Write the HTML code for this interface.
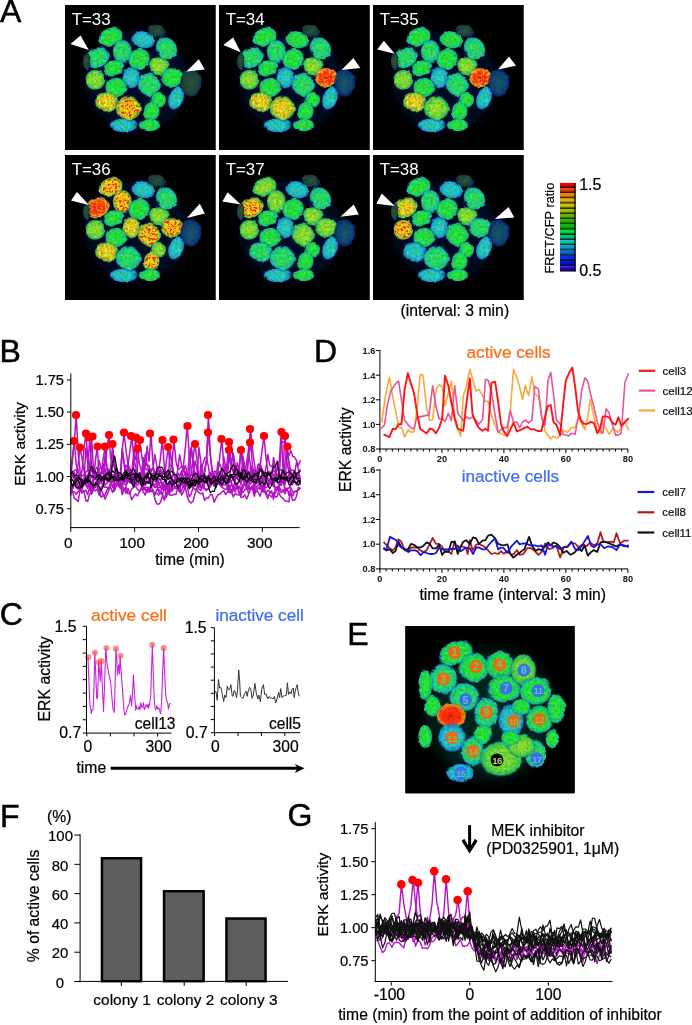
<!DOCTYPE html>
<html><head><meta charset="utf-8"><style>
html,body{margin:0;padding:0;background:#fff;}
body{width:692px;height:1025px;overflow:hidden;}
svg{display:block;font-family:"Liberation Sans", sans-serif;will-change:transform;}
</style></head><body>
<svg width="692" height="1025" viewBox="0 0 692 1025">
<defs>
<radialGradient id="p_c" cx="50%" cy="50%" r="50%"><stop offset="0" stop-color="#2ad8a8"/><stop offset="0.62" stop-color="#20ccbc"/><stop offset="0.86" stop-color="#1898c8"/><stop offset="1" stop-color="#0830a0" stop-opacity="0"/></radialGradient>
<radialGradient id="p_g" cx="50%" cy="50%" r="50%"><stop offset="0" stop-color="#28f038"/><stop offset="0.62" stop-color="#22ec44"/><stop offset="0.86" stop-color="#18c880"/><stop offset="1" stop-color="#0840a0" stop-opacity="0"/></radialGradient>
<radialGradient id="p_gc" cx="50%" cy="50%" r="50%"><stop offset="0" stop-color="#2aea58"/><stop offset="0.62" stop-color="#24e468"/><stop offset="0.86" stop-color="#1ac4a0"/><stop offset="1" stop-color="#0838a0" stop-opacity="0"/></radialGradient>
<radialGradient id="p_yg" cx="50%" cy="50%" r="50%"><stop offset="0" stop-color="#90e830"/><stop offset="0.62" stop-color="#60e438"/><stop offset="0.86" stop-color="#28c860"/><stop offset="1" stop-color="#0a4080" stop-opacity="0"/></radialGradient>
<radialGradient id="p_y" cx="50%" cy="50%" r="50%"><stop offset="0" stop-color="#e8f020"/><stop offset="0.62" stop-color="#c0ec28"/><stop offset="0.86" stop-color="#60d040"/><stop offset="1" stop-color="#105060" stop-opacity="0"/></radialGradient>
<radialGradient id="p_yr" cx="50%" cy="50%" r="50%"><stop offset="0" stop-color="#f0d818"/><stop offset="0.62" stop-color="#d8e020"/><stop offset="0.86" stop-color="#70d040"/><stop offset="1" stop-color="#105060" stop-opacity="0"/></radialGradient>
<radialGradient id="p_r" cx="50%" cy="50%" r="50%"><stop offset="0" stop-color="#ff1a00"/><stop offset="0.62" stop-color="#ff4010"/><stop offset="0.86" stop-color="#e0a020"/><stop offset="1" stop-color="#205030" stop-opacity="0"/></radialGradient>
<radialGradient id="p_d" cx="50%" cy="50%" r="50%"><stop offset="0" stop-color="#285a30"/><stop offset="0.62" stop-color="#1e4a38"/><stop offset="0.86" stop-color="#103a48"/><stop offset="1" stop-color="#050a20" stop-opacity="0"/></radialGradient>
<radialGradient id="p_db" cx="50%" cy="50%" r="50%"><stop offset="0" stop-color="#186060"/><stop offset="0.62" stop-color="#0e4a70"/><stop offset="0.86" stop-color="#0a2a70"/><stop offset="1" stop-color="#050a20" stop-opacity="0"/></radialGradient>
<filter id="cellf" x="0" y="0" width="100%" height="100%" color-interpolation-filters="sRGB"><feTurbulence type="fractalNoise" baseFrequency="0.12" numOctaves="2" seed="5" result="w"/><feDisplacementMap in="SourceGraphic" in2="w" scale="3.5" xChannelSelector="R" yChannelSelector="G" result="d"/><feGaussianBlur in="d" stdDeviation="0.55" result="b"/><feTurbulence type="fractalNoise" baseFrequency="0.38" numOctaves="2" seed="3" result="n"/><feColorMatrix in="n" type="matrix" values="0.8 0 0 0 0.12  0 0.22 0 0 0.35  0 0 1.0 0 0.0  0 0 0 0 1" result="nn"/><feComposite in="b" in2="nn" operator="arithmetic" k1="2" k2="0" k3="0" k4="0"/></filter>
<filter id="speck" x="0" y="0" width="100%" height="100%" color-interpolation-filters="sRGB"><feTurbulence type="fractalNoise" baseFrequency="0.42" numOctaves="2" seed="11" result="n"/><feColorMatrix in="n" type="matrix" values="0 0 0 0 0  0 0 0 0 0  0 0 0 0 0  7 0 0 0 -3.6" result="m"/><feComposite in="SourceGraphic" in2="m" operator="in"/></filter>
<clipPath id="tclip"><rect width="150.5" height="145"/></clipPath>
<filter id="haze" x="-30%" y="-30%" width="160%" height="160%"><feGaussianBlur stdDeviation="5"/></filter>
<filter id="ehaze" x="-30%" y="-30%" width="160%" height="160%"><feGaussianBlur stdDeviation="7"/></filter>
</defs>
<text x="0.00" y="22.40" font-size="32" text-anchor="start" fill="#000" stroke="#000" stroke-width="0.5" font-weight="normal" >A</text>
<text x="-0.40" y="361.70" font-size="32" text-anchor="start" fill="#000" stroke="#000" stroke-width="0.5" font-weight="normal" >B</text>
<text x="-0.30" y="625.00" font-size="32" text-anchor="start" fill="#000" stroke="#000" stroke-width="0.5" font-weight="normal" >C</text>
<text x="314.00" y="362.10" font-size="32" text-anchor="start" fill="#000" stroke="#000" stroke-width="0.5" font-weight="normal" >D</text>
<text x="347.30" y="645.00" font-size="32" text-anchor="start" fill="#000" stroke="#000" stroke-width="0.5" font-weight="normal" >E</text>
<text x="0.00" y="826.50" font-size="32" text-anchor="start" fill="#000" stroke="#000" stroke-width="0.5" font-weight="normal" >F</text>
<text x="287.50" y="825.60" font-size="32" text-anchor="start" fill="#000" stroke="#000" stroke-width="0.5" font-weight="normal" >G</text>
<g transform="translate(65,5)">
<rect x="0" y="0" width="150.5" height="145" fill="#000"/>
<g clip-path="url(#tclip)"><g filter="url(#cellf)">
<rect x="-4" y="-4" width="158.5" height="153" fill="#000"/>
<ellipse cx="72" cy="76" rx="52" ry="50" fill="#061a40" fill-opacity="0.55" filter="url(#haze)"/>
<ellipse cx="45.7" cy="31.7" rx="13.1" ry="9.5" transform="rotate(-20 45.7 31.7)" fill="url(#p_g)"/>
<ellipse cx="78.0" cy="34.7" rx="12.5" ry="9.1" transform="rotate(12 78.0 34.7)" fill="url(#p_c)"/>
<ellipse cx="92.0" cy="26.0" rx="10.3" ry="6.3" transform="rotate(20 92.0 26.0)" fill="url(#p_d)"/>
<ellipse cx="101.5" cy="43.4" rx="12.5" ry="10.8" transform="rotate(50 101.5 43.4)" fill="url(#p_gc)"/>
<ellipse cx="32.5" cy="52.5" rx="12.5" ry="10.8" transform="rotate(-15 32.5 52.5)" fill="url(#p_gc)"/>
<ellipse cx="57.4" cy="46.6" rx="10.3" ry="12.5" transform="rotate(0 57.4 46.6)" fill="url(#p_gc)"/>
<ellipse cx="74.0" cy="54.0" rx="12.0" ry="10.8" transform="rotate(-30 74.0 54.0)" fill="url(#p_g)"/>
<ellipse cx="93.6" cy="60.7" rx="10.8" ry="10.3" transform="rotate(0 93.6 60.7)" fill="url(#p_yg)"/>
<ellipse cx="48.8" cy="62.9" rx="11.4" ry="8.0" transform="rotate(-15 48.8 62.9)" fill="url(#p_g)"/>
<ellipse cx="30.3" cy="74.8" rx="10.8" ry="10.8" transform="rotate(0 30.3 74.8)" fill="url(#p_yg)"/>
<ellipse cx="66.3" cy="72.6" rx="9.7" ry="11.4" transform="rotate(0 66.3 72.6)" fill="url(#p_c)"/>
<ellipse cx="84.0" cy="80.0" rx="12.0" ry="12.5" transform="rotate(0 84.0 80.0)" fill="url(#p_gc)"/>
<ellipse cx="107.3" cy="72.6" rx="12.5" ry="10.3" transform="rotate(0 107.3 72.6)" fill="url(#p_g)"/>
<ellipse cx="126.0" cy="78.0" rx="11.4" ry="14.8" transform="rotate(0 126.0 78.0)" fill="url(#p_d)"/>
<ellipse cx="51.0" cy="82.4" rx="11.4" ry="10.3" transform="rotate(0 51.0 82.4)" fill="url(#p_g)"/>
<ellipse cx="41.2" cy="96.5" rx="12.0" ry="10.8" transform="rotate(10 41.2 96.5)" fill="url(#p_y)"/>
<ellipse cx="63.3" cy="103.0" rx="13.7" ry="13.1" transform="rotate(0 63.3 103.0)" fill="url(#p_yr)"/>
<ellipse cx="93.6" cy="94.7" rx="8.0" ry="8.5" transform="rotate(0 93.6 94.7)" fill="url(#p_g)"/>
<ellipse cx="111.0" cy="93.2" rx="8.0" ry="12.5" transform="rotate(20 111.0 93.2)" fill="url(#p_c)"/>
<ellipse cx="86.7" cy="106.2" rx="8.5" ry="9.7" transform="rotate(0 86.7 106.2)" fill="url(#p_g)"/>
<ellipse cx="58.5" cy="120.3" rx="14.8" ry="7.4" transform="rotate(0 58.5 120.3)" fill="url(#p_c)"/>
<ellipse cx="84.5" cy="120.0" rx="11.4" ry="6.8" transform="rotate(0 84.5 120.0)" fill="url(#p_g)"/>
<ellipse cx="21.7" cy="56.0" rx="4.0" ry="9.1" transform="rotate(0 21.7 56.0)" fill="url(#p_d)"/>
</g></g>
<g filter="url(#speck)"><rect width="150.5" height="145" fill="none"/>
<ellipse cx="93.6" cy="60.7" rx="9.0" ry="8.5" transform="rotate(0 93.6 60.7)" fill="#f0f020" fill-opacity="0.35"/>
<ellipse cx="30.3" cy="74.8" rx="9.0" ry="9.0" transform="rotate(0 30.3 74.8)" fill="#f0f020" fill-opacity="0.35"/>
<ellipse cx="41.2" cy="96.5" rx="10.0" ry="9.0" transform="rotate(10 41.2 96.5)" fill="#ff2800" fill-opacity="0.45"/>
<ellipse cx="63.3" cy="103.0" rx="11.4" ry="10.9" transform="rotate(0 63.3 103.0)" fill="#ff1800" fill-opacity="0.95"/>
</g>
<text x="6.7" y="20.1" font-size="16.9" fill="#fff">T=33</text>
<polygon points="15.6,30.4 5.4,39.0 23.8,44.9" fill="#fff"/>
<polygon points="133.8,54.2 139.8,64.4 121.4,66.5" fill="#fff"/>
</g>
<g transform="translate(219,5)">
<rect x="0" y="0" width="150.5" height="145" fill="#000"/>
<g clip-path="url(#tclip)"><g filter="url(#cellf)">
<rect x="-4" y="-4" width="158.5" height="153" fill="#000"/>
<ellipse cx="72" cy="76" rx="52" ry="50" fill="#061a40" fill-opacity="0.55" filter="url(#haze)"/>
<ellipse cx="45.7" cy="31.7" rx="13.1" ry="9.5" transform="rotate(-20 45.7 31.7)" fill="url(#p_g)"/>
<ellipse cx="78.0" cy="34.7" rx="12.5" ry="9.1" transform="rotate(12 78.0 34.7)" fill="url(#p_g)"/>
<ellipse cx="92.0" cy="26.0" rx="10.3" ry="6.3" transform="rotate(20 92.0 26.0)" fill="url(#p_d)"/>
<ellipse cx="101.5" cy="43.4" rx="12.5" ry="10.8" transform="rotate(50 101.5 43.4)" fill="url(#p_gc)"/>
<ellipse cx="32.5" cy="52.5" rx="12.5" ry="10.8" transform="rotate(-15 32.5 52.5)" fill="url(#p_gc)"/>
<ellipse cx="57.4" cy="46.6" rx="10.3" ry="12.5" transform="rotate(0 57.4 46.6)" fill="url(#p_gc)"/>
<ellipse cx="74.0" cy="54.0" rx="12.0" ry="10.8" transform="rotate(-30 74.0 54.0)" fill="url(#p_g)"/>
<ellipse cx="93.6" cy="60.7" rx="10.8" ry="10.3" transform="rotate(0 93.6 60.7)" fill="url(#p_yg)"/>
<ellipse cx="48.8" cy="62.9" rx="11.4" ry="8.0" transform="rotate(-15 48.8 62.9)" fill="url(#p_g)"/>
<ellipse cx="30.3" cy="74.8" rx="10.8" ry="10.8" transform="rotate(0 30.3 74.8)" fill="url(#p_yg)"/>
<ellipse cx="66.3" cy="72.6" rx="9.7" ry="11.4" transform="rotate(0 66.3 72.6)" fill="url(#p_c)"/>
<ellipse cx="84.0" cy="80.0" rx="12.0" ry="12.5" transform="rotate(0 84.0 80.0)" fill="url(#p_gc)"/>
<ellipse cx="107.3" cy="72.6" rx="12.5" ry="10.3" transform="rotate(0 107.3 72.6)" fill="url(#p_r)"/>
<ellipse cx="126.0" cy="78.0" rx="11.4" ry="14.8" transform="rotate(0 126.0 78.0)" fill="url(#p_db)"/>
<ellipse cx="51.0" cy="82.4" rx="11.4" ry="10.3" transform="rotate(0 51.0 82.4)" fill="url(#p_g)"/>
<ellipse cx="41.2" cy="96.5" rx="12.0" ry="10.8" transform="rotate(10 41.2 96.5)" fill="url(#p_y)"/>
<ellipse cx="63.3" cy="103.0" rx="13.7" ry="13.1" transform="rotate(0 63.3 103.0)" fill="url(#p_y)"/>
<ellipse cx="93.6" cy="94.7" rx="8.0" ry="8.5" transform="rotate(0 93.6 94.7)" fill="url(#p_g)"/>
<ellipse cx="111.0" cy="93.2" rx="8.0" ry="12.5" transform="rotate(20 111.0 93.2)" fill="url(#p_c)"/>
<ellipse cx="86.7" cy="106.2" rx="8.5" ry="9.7" transform="rotate(0 86.7 106.2)" fill="url(#p_g)"/>
<ellipse cx="58.5" cy="120.3" rx="14.8" ry="7.4" transform="rotate(0 58.5 120.3)" fill="url(#p_c)"/>
<ellipse cx="84.5" cy="120.0" rx="11.4" ry="6.8" transform="rotate(0 84.5 120.0)" fill="url(#p_g)"/>
<ellipse cx="21.7" cy="56.0" rx="4.0" ry="9.1" transform="rotate(0 21.7 56.0)" fill="url(#p_d)"/>
</g></g>
<g filter="url(#speck)"><rect width="150.5" height="145" fill="none"/>
<ellipse cx="93.6" cy="60.7" rx="9.0" ry="8.5" transform="rotate(0 93.6 60.7)" fill="#f0f020" fill-opacity="0.35"/>
<ellipse cx="30.3" cy="74.8" rx="9.0" ry="9.0" transform="rotate(0 30.3 74.8)" fill="#f0f020" fill-opacity="0.35"/>
<ellipse cx="107.3" cy="72.6" rx="10.4" ry="8.5" transform="rotate(0 107.3 72.6)" fill="#f8e020" fill-opacity="0.6"/>
<ellipse cx="41.2" cy="96.5" rx="10.0" ry="9.0" transform="rotate(10 41.2 96.5)" fill="#ff2800" fill-opacity="0.45"/>
<ellipse cx="63.3" cy="103.0" rx="11.4" ry="10.9" transform="rotate(0 63.3 103.0)" fill="#ff2800" fill-opacity="0.45"/>
</g>
<text x="6.7" y="20.1" font-size="16.9" fill="#fff">T=34</text>
<polygon points="14.1,32.5 4.3,40.0 21.7,47.3" fill="#fff"/>
<polygon points="134.4,53.0 141.3,62.9 122.5,65.0" fill="#fff"/>
</g>
<g transform="translate(373,5)">
<rect x="0" y="0" width="150.5" height="145" fill="#000"/>
<g clip-path="url(#tclip)"><g filter="url(#cellf)">
<rect x="-4" y="-4" width="158.5" height="153" fill="#000"/>
<ellipse cx="72" cy="76" rx="52" ry="50" fill="#061a40" fill-opacity="0.55" filter="url(#haze)"/>
<ellipse cx="45.7" cy="31.7" rx="13.1" ry="9.5" transform="rotate(-20 45.7 31.7)" fill="url(#p_g)"/>
<ellipse cx="78.0" cy="34.7" rx="12.5" ry="9.1" transform="rotate(12 78.0 34.7)" fill="url(#p_g)"/>
<ellipse cx="92.0" cy="26.0" rx="10.3" ry="6.3" transform="rotate(20 92.0 26.0)" fill="url(#p_d)"/>
<ellipse cx="101.5" cy="43.4" rx="12.5" ry="10.8" transform="rotate(50 101.5 43.4)" fill="url(#p_gc)"/>
<ellipse cx="32.5" cy="52.5" rx="12.5" ry="10.8" transform="rotate(-15 32.5 52.5)" fill="url(#p_gc)"/>
<ellipse cx="57.4" cy="46.6" rx="10.3" ry="12.5" transform="rotate(0 57.4 46.6)" fill="url(#p_gc)"/>
<ellipse cx="74.0" cy="54.0" rx="12.0" ry="10.8" transform="rotate(-30 74.0 54.0)" fill="url(#p_g)"/>
<ellipse cx="93.6" cy="60.7" rx="10.8" ry="10.3" transform="rotate(0 93.6 60.7)" fill="url(#p_yg)"/>
<ellipse cx="48.8" cy="62.9" rx="11.4" ry="8.0" transform="rotate(-15 48.8 62.9)" fill="url(#p_g)"/>
<ellipse cx="30.3" cy="74.8" rx="10.8" ry="10.8" transform="rotate(0 30.3 74.8)" fill="url(#p_yg)"/>
<ellipse cx="66.3" cy="72.6" rx="9.7" ry="11.4" transform="rotate(0 66.3 72.6)" fill="url(#p_c)"/>
<ellipse cx="84.0" cy="80.0" rx="12.0" ry="12.5" transform="rotate(0 84.0 80.0)" fill="url(#p_gc)"/>
<ellipse cx="107.3" cy="72.6" rx="12.5" ry="10.3" transform="rotate(0 107.3 72.6)" fill="url(#p_r)"/>
<ellipse cx="126.0" cy="78.0" rx="11.4" ry="14.8" transform="rotate(0 126.0 78.0)" fill="url(#p_db)"/>
<ellipse cx="51.0" cy="82.4" rx="11.4" ry="10.3" transform="rotate(0 51.0 82.4)" fill="url(#p_g)"/>
<ellipse cx="41.2" cy="96.5" rx="12.0" ry="10.8" transform="rotate(10 41.2 96.5)" fill="url(#p_y)"/>
<ellipse cx="63.3" cy="103.0" rx="13.7" ry="13.1" transform="rotate(0 63.3 103.0)" fill="url(#p_yg)"/>
<ellipse cx="93.6" cy="94.7" rx="8.0" ry="8.5" transform="rotate(0 93.6 94.7)" fill="url(#p_g)"/>
<ellipse cx="111.0" cy="93.2" rx="8.0" ry="12.5" transform="rotate(20 111.0 93.2)" fill="url(#p_c)"/>
<ellipse cx="86.7" cy="106.2" rx="8.5" ry="9.7" transform="rotate(0 86.7 106.2)" fill="url(#p_g)"/>
<ellipse cx="58.5" cy="120.3" rx="14.8" ry="7.4" transform="rotate(0 58.5 120.3)" fill="url(#p_c)"/>
<ellipse cx="84.5" cy="120.0" rx="11.4" ry="6.8" transform="rotate(0 84.5 120.0)" fill="url(#p_g)"/>
<ellipse cx="21.7" cy="56.0" rx="4.0" ry="9.1" transform="rotate(0 21.7 56.0)" fill="url(#p_d)"/>
</g></g>
<g filter="url(#speck)"><rect width="150.5" height="145" fill="none"/>
<ellipse cx="93.6" cy="60.7" rx="9.0" ry="8.5" transform="rotate(0 93.6 60.7)" fill="#f0f020" fill-opacity="0.35"/>
<ellipse cx="30.3" cy="74.8" rx="9.0" ry="9.0" transform="rotate(0 30.3 74.8)" fill="#f0f020" fill-opacity="0.35"/>
<ellipse cx="107.3" cy="72.6" rx="10.4" ry="8.5" transform="rotate(0 107.3 72.6)" fill="#f8e020" fill-opacity="0.6"/>
<ellipse cx="41.2" cy="96.5" rx="10.0" ry="9.0" transform="rotate(10 41.2 96.5)" fill="#ff2800" fill-opacity="0.45"/>
<ellipse cx="63.3" cy="103.0" rx="11.4" ry="10.9" transform="rotate(0 63.3 103.0)" fill="#f0f020" fill-opacity="0.35"/>
</g>
<text x="6.7" y="20.1" font-size="16.9" fill="#fff">T=35</text>
<polygon points="10.8,35.8 4.3,44.4 21.7,48.8" fill="#fff"/>
<polygon points="136.0,51.6 143.0,60.7 125.0,64.4" fill="#fff"/>
</g>
<g transform="translate(65,155)">
<rect x="0" y="0" width="150.5" height="145" fill="#000"/>
<g clip-path="url(#tclip)"><g filter="url(#cellf)">
<rect x="-4" y="-4" width="158.5" height="153" fill="#000"/>
<ellipse cx="72" cy="76" rx="52" ry="50" fill="#061a40" fill-opacity="0.55" filter="url(#haze)"/>
<ellipse cx="45.7" cy="31.7" rx="13.1" ry="9.5" transform="rotate(-20 45.7 31.7)" fill="url(#p_yr)"/>
<ellipse cx="78.0" cy="34.7" rx="12.5" ry="9.1" transform="rotate(12 78.0 34.7)" fill="url(#p_c)"/>
<ellipse cx="92.0" cy="26.0" rx="10.3" ry="6.3" transform="rotate(20 92.0 26.0)" fill="url(#p_d)"/>
<ellipse cx="101.5" cy="43.4" rx="12.5" ry="10.8" transform="rotate(50 101.5 43.4)" fill="url(#p_gc)"/>
<ellipse cx="32.5" cy="52.5" rx="12.5" ry="10.8" transform="rotate(-15 32.5 52.5)" fill="url(#p_r)"/>
<ellipse cx="57.4" cy="46.6" rx="10.3" ry="12.5" transform="rotate(0 57.4 46.6)" fill="url(#p_yr)"/>
<ellipse cx="74.0" cy="54.0" rx="12.0" ry="10.8" transform="rotate(-30 74.0 54.0)" fill="url(#p_g)"/>
<ellipse cx="93.6" cy="60.7" rx="10.8" ry="10.3" transform="rotate(0 93.6 60.7)" fill="url(#p_yg)"/>
<ellipse cx="48.8" cy="62.9" rx="11.4" ry="8.0" transform="rotate(-15 48.8 62.9)" fill="url(#p_g)"/>
<ellipse cx="30.3" cy="74.8" rx="10.8" ry="10.8" transform="rotate(0 30.3 74.8)" fill="url(#p_yg)"/>
<ellipse cx="66.3" cy="72.6" rx="9.7" ry="11.4" transform="rotate(0 66.3 72.6)" fill="url(#p_y)"/>
<ellipse cx="84.0" cy="80.0" rx="12.0" ry="12.5" transform="rotate(0 84.0 80.0)" fill="url(#p_yr)"/>
<ellipse cx="107.3" cy="72.6" rx="12.5" ry="10.3" transform="rotate(0 107.3 72.6)" fill="url(#p_yr)"/>
<ellipse cx="126.0" cy="78.0" rx="11.4" ry="14.8" transform="rotate(0 126.0 78.0)" fill="url(#p_db)"/>
<ellipse cx="51.0" cy="82.4" rx="11.4" ry="10.3" transform="rotate(0 51.0 82.4)" fill="url(#p_g)"/>
<ellipse cx="41.2" cy="96.5" rx="12.0" ry="10.8" transform="rotate(10 41.2 96.5)" fill="url(#p_y)"/>
<ellipse cx="63.3" cy="103.0" rx="13.7" ry="13.1" transform="rotate(0 63.3 103.0)" fill="url(#p_gc)"/>
<ellipse cx="93.6" cy="94.7" rx="8.0" ry="8.5" transform="rotate(0 93.6 94.7)" fill="url(#p_yg)"/>
<ellipse cx="111.0" cy="93.2" rx="8.0" ry="12.5" transform="rotate(20 111.0 93.2)" fill="url(#p_c)"/>
<ellipse cx="86.7" cy="106.2" rx="8.5" ry="9.7" transform="rotate(0 86.7 106.2)" fill="url(#p_yr)"/>
<ellipse cx="58.5" cy="120.3" rx="14.8" ry="7.4" transform="rotate(0 58.5 120.3)" fill="url(#p_c)"/>
<ellipse cx="84.5" cy="120.0" rx="11.4" ry="6.8" transform="rotate(0 84.5 120.0)" fill="url(#p_g)"/>
<ellipse cx="21.7" cy="56.0" rx="4.0" ry="9.1" transform="rotate(0 21.7 56.0)" fill="url(#p_d)"/>
</g></g>
<g filter="url(#speck)"><rect width="150.5" height="145" fill="none"/>
<ellipse cx="45.7" cy="31.7" rx="10.9" ry="7.9" transform="rotate(-20 45.7 31.7)" fill="#ff1800" fill-opacity="0.95"/>
<ellipse cx="32.5" cy="52.5" rx="10.4" ry="9.0" transform="rotate(-15 32.5 52.5)" fill="#f8e020" fill-opacity="0.6"/>
<ellipse cx="57.4" cy="46.6" rx="8.5" ry="10.4" transform="rotate(0 57.4 46.6)" fill="#ff1800" fill-opacity="0.95"/>
<ellipse cx="93.6" cy="60.7" rx="9.0" ry="8.5" transform="rotate(0 93.6 60.7)" fill="#f0f020" fill-opacity="0.35"/>
<ellipse cx="30.3" cy="74.8" rx="9.0" ry="9.0" transform="rotate(0 30.3 74.8)" fill="#f0f020" fill-opacity="0.35"/>
<ellipse cx="66.3" cy="72.6" rx="8.1" ry="9.5" transform="rotate(0 66.3 72.6)" fill="#ff2800" fill-opacity="0.45"/>
<ellipse cx="84.0" cy="80.0" rx="10.0" ry="10.4" transform="rotate(0 84.0 80.0)" fill="#ff1800" fill-opacity="0.95"/>
<ellipse cx="107.3" cy="72.6" rx="10.4" ry="8.5" transform="rotate(0 107.3 72.6)" fill="#ff1800" fill-opacity="0.95"/>
<ellipse cx="41.2" cy="96.5" rx="10.0" ry="9.0" transform="rotate(10 41.2 96.5)" fill="#ff2800" fill-opacity="0.45"/>
<ellipse cx="93.6" cy="94.7" rx="6.6" ry="7.1" transform="rotate(0 93.6 94.7)" fill="#f0f020" fill-opacity="0.35"/>
<ellipse cx="86.7" cy="106.2" rx="7.1" ry="8.1" transform="rotate(0 86.7 106.2)" fill="#ff1800" fill-opacity="0.95"/>
</g>
<text x="6.7" y="20.1" font-size="16.9" fill="#fff">T=36</text>
<polygon points="12.0,36.9 6.0,45.5 23.8,49.9" fill="#fff"/>
<polygon points="134.8,48.8 139.8,58.5 121.8,62.9" fill="#fff"/>
</g>
<g transform="translate(219,155)">
<rect x="0" y="0" width="150.5" height="145" fill="#000"/>
<g clip-path="url(#tclip)"><g filter="url(#cellf)">
<rect x="-4" y="-4" width="158.5" height="153" fill="#000"/>
<ellipse cx="72" cy="76" rx="52" ry="50" fill="#061a40" fill-opacity="0.55" filter="url(#haze)"/>
<ellipse cx="45.7" cy="31.7" rx="13.1" ry="9.5" transform="rotate(-20 45.7 31.7)" fill="url(#p_yg)"/>
<ellipse cx="78.0" cy="34.7" rx="12.5" ry="9.1" transform="rotate(12 78.0 34.7)" fill="url(#p_c)"/>
<ellipse cx="92.0" cy="26.0" rx="10.3" ry="6.3" transform="rotate(20 92.0 26.0)" fill="url(#p_d)"/>
<ellipse cx="101.5" cy="43.4" rx="12.5" ry="10.8" transform="rotate(50 101.5 43.4)" fill="url(#p_gc)"/>
<ellipse cx="32.5" cy="52.5" rx="12.5" ry="10.8" transform="rotate(-15 32.5 52.5)" fill="url(#p_yr)"/>
<ellipse cx="57.4" cy="46.6" rx="10.3" ry="12.5" transform="rotate(0 57.4 46.6)" fill="url(#p_yg)"/>
<ellipse cx="74.0" cy="54.0" rx="12.0" ry="10.8" transform="rotate(-30 74.0 54.0)" fill="url(#p_g)"/>
<ellipse cx="93.6" cy="60.7" rx="10.8" ry="10.3" transform="rotate(0 93.6 60.7)" fill="url(#p_yg)"/>
<ellipse cx="48.8" cy="62.9" rx="11.4" ry="8.0" transform="rotate(-15 48.8 62.9)" fill="url(#p_g)"/>
<ellipse cx="30.3" cy="74.8" rx="10.8" ry="10.8" transform="rotate(0 30.3 74.8)" fill="url(#p_yg)"/>
<ellipse cx="66.3" cy="72.6" rx="9.7" ry="11.4" transform="rotate(0 66.3 72.6)" fill="url(#p_c)"/>
<ellipse cx="84.0" cy="80.0" rx="12.0" ry="12.5" transform="rotate(0 84.0 80.0)" fill="url(#p_yg)"/>
<ellipse cx="107.3" cy="72.6" rx="12.5" ry="10.3" transform="rotate(0 107.3 72.6)" fill="url(#p_yg)"/>
<ellipse cx="126.0" cy="78.0" rx="11.4" ry="14.8" transform="rotate(0 126.0 78.0)" fill="url(#p_db)"/>
<ellipse cx="51.0" cy="82.4" rx="11.4" ry="10.3" transform="rotate(0 51.0 82.4)" fill="url(#p_g)"/>
<ellipse cx="41.2" cy="96.5" rx="12.0" ry="10.8" transform="rotate(10 41.2 96.5)" fill="url(#p_gc)"/>
<ellipse cx="63.3" cy="103.0" rx="13.7" ry="13.1" transform="rotate(0 63.3 103.0)" fill="url(#p_gc)"/>
<ellipse cx="93.6" cy="94.7" rx="8.0" ry="8.5" transform="rotate(0 93.6 94.7)" fill="url(#p_g)"/>
<ellipse cx="111.0" cy="93.2" rx="8.0" ry="12.5" transform="rotate(20 111.0 93.2)" fill="url(#p_c)"/>
<ellipse cx="86.7" cy="106.2" rx="8.5" ry="9.7" transform="rotate(0 86.7 106.2)" fill="url(#p_g)"/>
<ellipse cx="58.5" cy="120.3" rx="14.8" ry="7.4" transform="rotate(0 58.5 120.3)" fill="url(#p_c)"/>
<ellipse cx="84.5" cy="120.0" rx="11.4" ry="6.8" transform="rotate(0 84.5 120.0)" fill="url(#p_g)"/>
<ellipse cx="21.7" cy="56.0" rx="4.0" ry="9.1" transform="rotate(0 21.7 56.0)" fill="url(#p_d)"/>
</g></g>
<g filter="url(#speck)"><rect width="150.5" height="145" fill="none"/>
<ellipse cx="45.7" cy="31.7" rx="10.9" ry="7.9" transform="rotate(-20 45.7 31.7)" fill="#f0f020" fill-opacity="0.35"/>
<ellipse cx="32.5" cy="52.5" rx="10.4" ry="9.0" transform="rotate(-15 32.5 52.5)" fill="#ff1800" fill-opacity="0.95"/>
<ellipse cx="57.4" cy="46.6" rx="8.5" ry="10.4" transform="rotate(0 57.4 46.6)" fill="#f0f020" fill-opacity="0.35"/>
<ellipse cx="93.6" cy="60.7" rx="9.0" ry="8.5" transform="rotate(0 93.6 60.7)" fill="#f0f020" fill-opacity="0.35"/>
<ellipse cx="30.3" cy="74.8" rx="9.0" ry="9.0" transform="rotate(0 30.3 74.8)" fill="#f0f020" fill-opacity="0.35"/>
<ellipse cx="84.0" cy="80.0" rx="10.0" ry="10.4" transform="rotate(0 84.0 80.0)" fill="#f0f020" fill-opacity="0.35"/>
<ellipse cx="107.3" cy="72.6" rx="10.4" ry="8.5" transform="rotate(0 107.3 72.6)" fill="#f0f020" fill-opacity="0.35"/>
</g>
<text x="6.7" y="20.1" font-size="16.9" fill="#fff">T=37</text>
<polygon points="8.7,37.3 3.3,46.6 21.7,49.4" fill="#fff"/>
<polygon points="134.8,49.4 139.8,59.6 121.4,61.8" fill="#fff"/>
</g>
<g transform="translate(373,155)">
<rect x="0" y="0" width="150.5" height="145" fill="#000"/>
<g clip-path="url(#tclip)"><g filter="url(#cellf)">
<rect x="-4" y="-4" width="158.5" height="153" fill="#000"/>
<ellipse cx="72" cy="76" rx="52" ry="50" fill="#061a40" fill-opacity="0.55" filter="url(#haze)"/>
<ellipse cx="45.7" cy="31.7" rx="13.1" ry="9.5" transform="rotate(-20 45.7 31.7)" fill="url(#p_g)"/>
<ellipse cx="78.0" cy="34.7" rx="12.5" ry="9.1" transform="rotate(12 78.0 34.7)" fill="url(#p_c)"/>
<ellipse cx="92.0" cy="26.0" rx="10.3" ry="6.3" transform="rotate(20 92.0 26.0)" fill="url(#p_d)"/>
<ellipse cx="101.5" cy="43.4" rx="12.5" ry="10.8" transform="rotate(50 101.5 43.4)" fill="url(#p_gc)"/>
<ellipse cx="32.5" cy="52.5" rx="12.5" ry="10.8" transform="rotate(-15 32.5 52.5)" fill="url(#p_y)"/>
<ellipse cx="57.4" cy="46.6" rx="10.3" ry="12.5" transform="rotate(0 57.4 46.6)" fill="url(#p_gc)"/>
<ellipse cx="74.0" cy="54.0" rx="12.0" ry="10.8" transform="rotate(-30 74.0 54.0)" fill="url(#p_g)"/>
<ellipse cx="93.6" cy="60.7" rx="10.8" ry="10.3" transform="rotate(0 93.6 60.7)" fill="url(#p_yg)"/>
<ellipse cx="48.8" cy="62.9" rx="11.4" ry="8.0" transform="rotate(-15 48.8 62.9)" fill="url(#p_g)"/>
<ellipse cx="30.3" cy="74.8" rx="10.8" ry="10.8" transform="rotate(0 30.3 74.8)" fill="url(#p_yr)"/>
<ellipse cx="66.3" cy="72.6" rx="9.7" ry="11.4" transform="rotate(0 66.3 72.6)" fill="url(#p_c)"/>
<ellipse cx="84.0" cy="80.0" rx="12.0" ry="12.5" transform="rotate(0 84.0 80.0)" fill="url(#p_g)"/>
<ellipse cx="107.3" cy="72.6" rx="12.5" ry="10.3" transform="rotate(0 107.3 72.6)" fill="url(#p_gc)"/>
<ellipse cx="126.0" cy="78.0" rx="11.4" ry="14.8" transform="rotate(0 126.0 78.0)" fill="url(#p_db)"/>
<ellipse cx="51.0" cy="82.4" rx="11.4" ry="10.3" transform="rotate(0 51.0 82.4)" fill="url(#p_g)"/>
<ellipse cx="41.2" cy="96.5" rx="12.0" ry="10.8" transform="rotate(10 41.2 96.5)" fill="url(#p_c)"/>
<ellipse cx="63.3" cy="103.0" rx="13.7" ry="13.1" transform="rotate(0 63.3 103.0)" fill="url(#p_gc)"/>
<ellipse cx="93.6" cy="94.7" rx="8.0" ry="8.5" transform="rotate(0 93.6 94.7)" fill="url(#p_g)"/>
<ellipse cx="111.0" cy="93.2" rx="8.0" ry="12.5" transform="rotate(20 111.0 93.2)" fill="url(#p_c)"/>
<ellipse cx="86.7" cy="106.2" rx="8.5" ry="9.7" transform="rotate(0 86.7 106.2)" fill="url(#p_g)"/>
<ellipse cx="58.5" cy="120.3" rx="14.8" ry="7.4" transform="rotate(0 58.5 120.3)" fill="url(#p_c)"/>
<ellipse cx="84.5" cy="120.0" rx="11.4" ry="6.8" transform="rotate(0 84.5 120.0)" fill="url(#p_g)"/>
<ellipse cx="21.7" cy="56.0" rx="4.0" ry="9.1" transform="rotate(0 21.7 56.0)" fill="url(#p_d)"/>
</g></g>
<g filter="url(#speck)"><rect width="150.5" height="145" fill="none"/>
<ellipse cx="32.5" cy="52.5" rx="10.4" ry="9.0" transform="rotate(-15 32.5 52.5)" fill="#ff2800" fill-opacity="0.45"/>
<ellipse cx="93.6" cy="60.7" rx="9.0" ry="8.5" transform="rotate(0 93.6 60.7)" fill="#f0f020" fill-opacity="0.35"/>
<ellipse cx="30.3" cy="74.8" rx="9.0" ry="9.0" transform="rotate(0 30.3 74.8)" fill="#ff1800" fill-opacity="0.95"/>
</g>
<text x="6.7" y="20.1" font-size="16.9" fill="#fff">T=38</text>
<polygon points="8.7,38.6 3.3,48.8 21.7,50.9" fill="#fff"/>
<polygon points="135.5,52.0 141.3,62.4 121.8,64.0" fill="#fff"/>
</g>
<defs>
<linearGradient id="cb0" x1="0" y1="0" x2="0" y2="1"><stop offset="0" stop-color="#f00000"/><stop offset="0.45" stop-color="#f00000"/><stop offset="1" stop-color="#000"/></linearGradient>
<linearGradient id="cb1" x1="0" y1="0" x2="0" y2="1"><stop offset="0" stop-color="#e04000"/><stop offset="0.45" stop-color="#e04000"/><stop offset="1" stop-color="#000"/></linearGradient>
<linearGradient id="cb2" x1="0" y1="0" x2="0" y2="1"><stop offset="0" stop-color="#f08000"/><stop offset="0.45" stop-color="#f08000"/><stop offset="1" stop-color="#000"/></linearGradient>
<linearGradient id="cb3" x1="0" y1="0" x2="0" y2="1"><stop offset="0" stop-color="#e8b000"/><stop offset="0.45" stop-color="#e8b000"/><stop offset="1" stop-color="#000"/></linearGradient>
<linearGradient id="cb4" x1="0" y1="0" x2="0" y2="1"><stop offset="0" stop-color="#c8c800"/><stop offset="0.45" stop-color="#c8c800"/><stop offset="1" stop-color="#000"/></linearGradient>
<linearGradient id="cb5" x1="0" y1="0" x2="0" y2="1"><stop offset="0" stop-color="#98c000"/><stop offset="0.45" stop-color="#98c000"/><stop offset="1" stop-color="#000"/></linearGradient>
<linearGradient id="cb6" x1="0" y1="0" x2="0" y2="1"><stop offset="0" stop-color="#60b000"/><stop offset="0.45" stop-color="#60b000"/><stop offset="1" stop-color="#000"/></linearGradient>
<linearGradient id="cb7" x1="0" y1="0" x2="0" y2="1"><stop offset="0" stop-color="#20b000"/><stop offset="0.45" stop-color="#20b000"/><stop offset="1" stop-color="#000"/></linearGradient>
<linearGradient id="cb8" x1="0" y1="0" x2="0" y2="1"><stop offset="0" stop-color="#00c000"/><stop offset="0.45" stop-color="#00c000"/><stop offset="1" stop-color="#000"/></linearGradient>
<linearGradient id="cb9" x1="0" y1="0" x2="0" y2="1"><stop offset="0" stop-color="#00e040"/><stop offset="0.45" stop-color="#00e040"/><stop offset="1" stop-color="#000"/></linearGradient>
<linearGradient id="cb10" x1="0" y1="0" x2="0" y2="1"><stop offset="0" stop-color="#00c080"/><stop offset="0.45" stop-color="#00c080"/><stop offset="1" stop-color="#000"/></linearGradient>
<linearGradient id="cb11" x1="0" y1="0" x2="0" y2="1"><stop offset="0" stop-color="#00c0b0"/><stop offset="0.45" stop-color="#00c0b0"/><stop offset="1" stop-color="#000"/></linearGradient>
<linearGradient id="cb12" x1="0" y1="0" x2="0" y2="1"><stop offset="0" stop-color="#00a0d0"/><stop offset="0.45" stop-color="#00a0d0"/><stop offset="1" stop-color="#000"/></linearGradient>
<linearGradient id="cb13" x1="0" y1="0" x2="0" y2="1"><stop offset="0" stop-color="#0068e0"/><stop offset="0.45" stop-color="#0068e0"/><stop offset="1" stop-color="#000"/></linearGradient>
<linearGradient id="cb14" x1="0" y1="0" x2="0" y2="1"><stop offset="0" stop-color="#0030f0"/><stop offset="0.45" stop-color="#0030f0"/><stop offset="1" stop-color="#000"/></linearGradient>
<linearGradient id="cb15" x1="0" y1="0" x2="0" y2="1"><stop offset="0" stop-color="#0010d0"/><stop offset="0.45" stop-color="#0010d0"/><stop offset="1" stop-color="#000"/></linearGradient>
<linearGradient id="cb16" x1="0" y1="0" x2="0" y2="1"><stop offset="0" stop-color="#3000d0"/><stop offset="0.45" stop-color="#3000d0"/><stop offset="1" stop-color="#000"/></linearGradient>
</defs>
<rect x="560" y="182.90" width="15.6" height="5.21" fill="url(#cb0)"/>
<rect x="560" y="188.11" width="15.6" height="5.21" fill="url(#cb1)"/>
<rect x="560" y="193.32" width="15.6" height="5.21" fill="url(#cb2)"/>
<rect x="560" y="198.54" width="15.6" height="5.21" fill="url(#cb3)"/>
<rect x="560" y="203.75" width="15.6" height="5.21" fill="url(#cb4)"/>
<rect x="560" y="208.96" width="15.6" height="5.21" fill="url(#cb5)"/>
<rect x="560" y="214.17" width="15.6" height="5.21" fill="url(#cb6)"/>
<rect x="560" y="219.38" width="15.6" height="5.21" fill="url(#cb7)"/>
<rect x="560" y="224.59" width="15.6" height="5.21" fill="url(#cb8)"/>
<rect x="560" y="229.81" width="15.6" height="5.21" fill="url(#cb9)"/>
<rect x="560" y="235.02" width="15.6" height="5.21" fill="url(#cb10)"/>
<rect x="560" y="240.23" width="15.6" height="5.21" fill="url(#cb11)"/>
<rect x="560" y="245.44" width="15.6" height="5.21" fill="url(#cb12)"/>
<rect x="560" y="250.65" width="15.6" height="5.21" fill="url(#cb13)"/>
<rect x="560" y="255.86" width="15.6" height="5.21" fill="url(#cb14)"/>
<rect x="560" y="261.08" width="15.6" height="5.21" fill="url(#cb15)"/>
<rect x="560" y="266.29" width="15.6" height="5.21" fill="url(#cb16)"/>
<line x1="575.0" y1="182.9" x2="575.0" y2="271.5" stroke="#000" stroke-width="1.2"/>
<text x="579.2" y="189.6" font-size="16" stroke="#000" stroke-width="0.22">1.5</text>
<text x="579.2" y="276.2" font-size="16" stroke="#000" stroke-width="0.22">0.5</text>
<text transform="translate(554,273.5) rotate(-90)" font-size="12.8" stroke="#000" stroke-width="0.2">FRET/CFP ratio</text>
<text x="400.6" y="316.0" font-size="15.75" stroke="#000" stroke-width="0.22">(interval: 3 min)</text>
<g transform="translate(405.4,626)">
<rect width="169.2" height="167.3" fill="#000"/>
<clipPath id="eclip"><rect width="169.2" height="167.3"/></clipPath>
<g clip-path="url(#eclip)"><g filter="url(#cellf)">
<rect x="-4" y="-4" width="177.2" height="175.3" fill="#000"/>
<ellipse cx="86" cy="88" rx="64" ry="64" fill="#06281e" filter="url(#ehaze)"/>
<ellipse cx="50.4" cy="27.0" rx="18.6" ry="12.4" transform="rotate(-20 50.4 27.0)" fill="url(#p_g)"/>
<ellipse cx="68.8" cy="41.8" rx="16.1" ry="15.5" transform="rotate(0 68.8 41.8)" fill="url(#p_g)"/>
<ellipse cx="38.0" cy="52.8" rx="14.9" ry="16.1" transform="rotate(0 38.0 52.8)" fill="url(#p_gc)"/>
<ellipse cx="94.6" cy="39.3" rx="15.5" ry="14.9" transform="rotate(0 94.6 39.3)" fill="url(#p_g)"/>
<ellipse cx="59.0" cy="71.0" rx="16.1" ry="14.9" transform="rotate(0 59.0 71.0)" fill="url(#p_gc)"/>
<ellipse cx="45.5" cy="89.7" rx="16.1" ry="13.0" transform="rotate(0 45.5 89.7)" fill="url(#p_r)"/>
<ellipse cx="98.3" cy="62.7" rx="17.4" ry="14.9" transform="rotate(0 98.3 62.7)" fill="url(#p_g)"/>
<ellipse cx="118.0" cy="44.0" rx="13.6" ry="16.7" transform="rotate(0 118.0 44.0)" fill="url(#p_yg)"/>
<ellipse cx="81.0" cy="87.0" rx="13.0" ry="16.1" transform="rotate(0 81.0 87.0)" fill="url(#p_gc)"/>
<ellipse cx="105.7" cy="94.6" rx="13.6" ry="17.4" transform="rotate(0 105.7 94.6)" fill="url(#p_c)"/>
<ellipse cx="130.0" cy="65.0" rx="17.4" ry="14.9" transform="rotate(0 130.0 65.0)" fill="url(#p_g)"/>
<ellipse cx="134.0" cy="93.4" rx="14.9" ry="14.9" transform="rotate(0 134.0 93.4)" fill="url(#p_g)"/>
<ellipse cx="46.7" cy="111.8" rx="14.9" ry="14.9" transform="rotate(0 46.7 111.8)" fill="url(#p_c)"/>
<ellipse cx="67.6" cy="125.3" rx="12.4" ry="16.1" transform="rotate(0 67.6 125.3)" fill="url(#p_gc)"/>
<ellipse cx="55.0" cy="147.0" rx="14.9" ry="9.9" transform="rotate(0 55.0 147.0)" fill="url(#p_c)"/>
<ellipse cx="95.8" cy="132.7" rx="22.3" ry="18.6" transform="rotate(0 95.8 132.7)" fill="url(#p_yg)"/>
<ellipse cx="130.0" cy="128.0" rx="11.2" ry="14.9" transform="rotate(0 130.0 128.0)" fill="url(#p_gc)"/>
<ellipse cx="19.7" cy="59.0" rx="7.4" ry="16.1" transform="rotate(0 19.7 59.0)" fill="url(#p_g)"/>
<ellipse cx="19.7" cy="110.6" rx="7.4" ry="12.4" transform="rotate(0 19.7 110.6)" fill="url(#p_g)"/>
<ellipse cx="151.0" cy="82.3" rx="9.9" ry="14.9" transform="rotate(0 151.0 82.3)" fill="url(#p_g)"/>
<ellipse cx="77.4" cy="108.0" rx="9.9" ry="9.9" transform="rotate(0 77.4 108.0)" fill="url(#p_g)"/>
<ellipse cx="115.5" cy="81.0" rx="9.9" ry="8.7" transform="rotate(0 115.5 81.0)" fill="url(#p_g)"/>
<ellipse cx="116.0" cy="120.0" rx="14.9" ry="12.4" transform="rotate(0 116.0 120.0)" fill="url(#p_yg)"/>
<ellipse cx="27.0" cy="80.0" rx="8.7" ry="11.2" transform="rotate(0 27.0 80.0)" fill="url(#p_g)"/>
<ellipse cx="147.0" cy="113.0" rx="7.4" ry="9.9" transform="rotate(0 147.0 113.0)" fill="url(#p_g)"/>
<ellipse cx="105.0" cy="112.0" rx="9.9" ry="8.7" transform="rotate(0 105.0 112.0)" fill="url(#p_g)"/>
</g></g>
<circle cx="49.1" cy="26.5" r="6.4" fill="#f06418"/>
<text x="49.1" y="30.3" font-size="10.8" font-weight="bold" text-anchor="middle" fill="#78c850" >1</text>
<circle cx="70.5" cy="40.5" r="6.4" fill="#f06418"/>
<text x="70.5" y="44.3" font-size="10.8" font-weight="bold" text-anchor="middle" fill="#78c850" >2</text>
<circle cx="38.1" cy="52.8" r="6.4" fill="#f06418"/>
<text x="38.1" y="56.6" font-size="10.8" font-weight="bold" text-anchor="middle" fill="#78c850" >3</text>
<circle cx="94.1" cy="38.6" r="6.4" fill="#f06418"/>
<text x="94.1" y="42.4" font-size="10.8" font-weight="bold" text-anchor="middle" fill="#78c850" >4</text>
<circle cx="60.2" cy="73.7" r="6.4" fill="#3c6cf0"/>
<text x="60.2" y="77.5" font-size="10.8" font-weight="bold" text-anchor="middle" fill="#50c8b0" >5</text>
<circle cx="100.7" cy="62.2" r="6.4" fill="#3c6cf0"/>
<text x="100.7" y="66.0" font-size="10.8" font-weight="bold" text-anchor="middle" fill="#50c8b0" >7</text>
<circle cx="118.4" cy="44.2" r="6.4" fill="#3c6cf0"/>
<text x="118.4" y="48.0" font-size="10.8" font-weight="bold" text-anchor="middle" fill="#50c8b0" >8</text>
<circle cx="81.1" cy="86.5" r="6.4" fill="#f06418"/>
<text x="81.1" y="90.3" font-size="10.8" font-weight="bold" text-anchor="middle" fill="#78c850" >9</text>
<circle cx="108.1" cy="95.1" r="6.4" fill="#f06418"/>
<text x="108.1" y="98.9" font-size="9.6" font-weight="bold" text-anchor="middle" fill="#78c850" letter-spacing="-0.6">10</text>
<circle cx="132.7" cy="64.6" r="6.4" fill="#3c6cf0"/>
<text x="132.7" y="68.4" font-size="9.6" font-weight="bold" text-anchor="middle" fill="#50c8b0" letter-spacing="-0.6">11</text>
<circle cx="133.9" cy="93.4" r="6.4" fill="#f06418"/>
<text x="133.9" y="97.2" font-size="9.6" font-weight="bold" text-anchor="middle" fill="#78c850" letter-spacing="-0.6">12</text>
<circle cx="46.7" cy="111.8" r="6.4" fill="#f06418"/>
<text x="46.7" y="115.6" font-size="9.6" font-weight="bold" text-anchor="middle" fill="#78c850" letter-spacing="-0.6">13</text>
<circle cx="67.6" cy="125.3" r="6.4" fill="#f06418"/>
<text x="67.6" y="129.1" font-size="9.6" font-weight="bold" text-anchor="middle" fill="#78c850" letter-spacing="-0.6">14</text>
<circle cx="55.3" cy="146.9" r="6.4" fill="#3c6cf0"/>
<text x="55.3" y="150.7" font-size="9.6" font-weight="bold" text-anchor="middle" fill="#50c8b0" letter-spacing="-0.6">15</text>
<circle cx="91.6" cy="133.9" r="6.4" fill="#000"/>
<text x="91.6" y="137.7" font-size="9.6" font-weight="bold" text-anchor="middle" fill="#a8e050" letter-spacing="-0.6">16</text>
<circle cx="131.4" cy="132.7" r="6.4" fill="#3c6cf0"/>
<text x="131.4" y="136.5" font-size="9.6" font-weight="bold" text-anchor="middle" fill="#50c8b0" letter-spacing="-0.6">17</text>
</g>
<polyline points="70.5,487.4 72.4,491.8 74.3,491.7 76.2,494.2 78.2,491.5 80.1,490.3 82.0,489.3 83.9,482.7 85.8,485.3 87.7,484.9 89.7,483.7 91.6,490.7 93.5,490.1 95.4,490.8 97.3,488.9 99.2,495.3 101.1,489.2 103.1,494.1 105.0,499.1 106.9,494.9 108.8,490.1 110.7,481.2 112.6,479.6 114.6,485.6 116.5,482.6 118.4,483.9 120.3,483.4 122.2,489.3 124.1,490.6 126.0,487.5 128.0,493.9 129.9,493.3 131.8,499.7 133.7,496.4 135.6,493.9 137.5,495.9 139.5,491.5 141.4,489.5 143.3,486.7 145.2,483.2 147.1,477.4 149.0,477.0 151.0,482.9 152.9,484.7 154.8,484.2 156.7,484.5 158.6,491.5 160.5,493.7 162.4,494.7 164.4,496.5 166.3,497.5 168.2,488.2 170.1,492.2 172.0,489.3 173.9,483.5 175.9,489.1 177.8,487.1 179.7,481.5 181.6,484.6 183.5,484.1 185.4,480.7 187.3,481.0 189.3,484.6 191.2,486.4 193.1,486.2 195.0,484.3 196.9,484.5 198.8,482.8 200.8,487.1 202.7,487.1 204.6,489.2 206.5,490.6 208.4,488.1 210.3,482.4 212.2,477.9 214.2,475.0 216.1,471.0 218.0,476.7 219.9,475.4 221.8,477.3 223.7,474.9 225.7,477.1 227.6,482.9 229.5,482.0 231.4,482.2 233.3,490.2 235.2,486.1 237.1,482.9 239.1,491.8 241.0,497.3 242.9,497.2 244.8,494.9 246.7,499.0 248.6,494.2 250.6,487.4 252.5,489.2 254.4,496.3 256.3,486.9 258.2,485.1 260.1,483.7 262.0,485.4 264.0,490.2 265.9,494.0 267.8,498.6 269.7,492.5 271.6,492.8 273.5,493.0 275.5,497.3 277.4,496.1 279.3,487.6 281.2,489.7 283.1,490.4 285.0,493.8 287.0,488.1 288.9,495.3 290.8,494.2 292.7,500.3 294.6,500.2 296.5,496.2 298.4,487.5 300.4,488.1" fill="none" stroke="#b412c4" stroke-width="1.5" stroke-linejoin="round" />
<polyline points="70.5,488.4 72.4,491.1 74.3,498.3 76.2,499.5 78.2,501.7 80.1,489.5 82.0,493.1 83.9,490.4 85.8,500.5 87.7,501.4 89.7,493.8 91.6,492.4 93.5,488.3 95.4,486.1 97.3,486.7 99.2,492.3 101.1,487.0 103.1,485.3 105.0,487.5 106.9,487.0 108.8,489.2 110.7,487.5 112.6,492.4 114.6,486.6 116.5,482.5 118.4,483.6 120.3,484.1 122.2,494.8 124.1,488.5 126.0,493.3 128.0,488.5 129.9,493.4 131.8,488.8 133.7,487.1 135.6,486.2 137.5,489.4 139.5,491.2 141.4,487.2 143.3,492.0 145.2,495.0 147.1,489.1 149.0,490.5 151.0,485.2 152.9,491.8 154.8,492.8 156.7,493.0 158.6,495.1 160.5,491.0 162.4,488.0 164.4,484.3 166.3,496.4 168.2,489.4 170.1,487.3 172.0,491.0 173.9,488.2 175.9,486.9 177.8,485.8 179.7,491.3 181.6,481.3 183.5,481.9 185.4,487.3 187.3,496.8 189.3,501.7 191.2,503.0 193.1,500.9 195.0,493.8 196.9,489.3 198.8,492.7 200.8,493.8 202.7,493.0 204.6,500.3 206.5,498.0 208.4,498.0 210.3,494.5 212.2,494.6 214.2,502.3 216.1,497.9 218.0,494.7 219.9,494.0 221.8,492.1 223.7,490.7 225.7,494.7 227.6,491.8 229.5,492.1 231.4,489.6 233.3,489.8 235.2,491.8 237.1,486.8 239.1,493.0 241.0,495.5 242.9,485.7 244.8,484.7 246.7,487.4 248.6,485.3 250.6,489.5 252.5,488.7 254.4,492.3 256.3,490.5 258.2,492.2 260.1,496.2 262.0,489.6 264.0,490.0 265.9,493.7 267.8,490.1 269.7,491.4 271.6,490.9 273.5,499.5 275.5,487.1 277.4,487.2 279.3,489.6 281.2,492.8 283.1,491.0 285.0,487.8 287.0,490.4 288.9,491.8 290.8,492.9 292.7,495.7 294.6,491.7 296.5,491.6 298.4,489.2 300.4,488.2" fill="none" stroke="#b412c4" stroke-width="1.5" stroke-linejoin="round" />
<polyline points="70.5,495.4 72.4,489.4 74.3,479.8 76.2,477.2 78.2,481.0 80.1,485.0 82.0,484.4 83.9,481.6 85.8,477.3 87.7,483.3 89.7,485.8 91.6,489.1 93.5,487.9 95.4,487.4 97.3,484.7 99.2,489.4 101.1,497.2 103.1,495.7 105.0,495.0 106.9,490.1 108.8,487.1 110.7,485.4 112.6,485.0 114.6,491.0 116.5,484.9 118.4,484.1 120.3,485.9 122.2,483.1 124.1,484.5 126.0,484.0 128.0,477.7 129.9,478.2 131.8,482.1 133.7,486.2 135.6,484.2 137.5,480.2 139.5,482.8 141.4,485.1 143.3,488.7 145.2,490.0 147.1,492.1 149.0,487.3 151.0,491.6 152.9,490.2 154.8,498.6 156.7,503.8 158.6,504.3 160.5,502.3 162.4,496.1 164.4,500.2 166.3,493.8 168.2,494.3 170.1,489.6 172.0,489.4 173.9,479.9 175.9,479.7 177.8,488.7 179.7,492.1 181.6,491.2 183.5,485.1 185.4,484.6 187.3,486.1 189.3,496.8 191.2,493.9 193.1,487.4 195.0,484.8 196.9,484.0 198.8,486.2 200.8,487.9 202.7,485.0 204.6,481.7 206.5,481.4 208.4,485.8 210.3,487.0 212.2,482.8 214.2,479.3 216.1,482.5 218.0,475.7 219.9,480.1 221.8,486.9 223.7,488.6 225.7,489.6 227.6,487.3 229.5,485.6 231.4,491.5 233.3,496.9 235.2,493.4 237.1,494.8 239.1,495.0 241.0,489.6 242.9,492.6 244.8,489.7 246.7,488.5 248.6,493.3 250.6,488.9 252.5,488.0 254.4,481.6 256.3,480.1 258.2,478.4 260.1,479.5 262.0,478.3 264.0,487.6 265.9,493.5 267.8,494.9 269.7,495.3 271.6,497.0 273.5,493.9 275.5,493.1 277.4,487.2 279.3,494.2 281.2,496.9 283.1,498.5 285.0,500.9 287.0,501.1 288.9,501.9 290.8,487.3 292.7,492.4 294.6,491.3 296.5,491.1 298.4,489.9 300.4,488.2" fill="none" stroke="#b412c4" stroke-width="1.5" stroke-linejoin="round" />
<polyline points="70.5,491.8 72.4,485.1 74.3,482.3 76.2,487.8 78.2,488.7 80.1,485.9 82.0,491.2 83.9,491.4 85.8,490.2 87.7,494.4 89.7,487.3 91.6,494.2 93.5,489.8 95.4,484.4 97.3,483.0 99.2,478.2 101.1,481.9 103.1,476.1 105.0,479.9 106.9,476.4 108.8,480.1 110.7,480.3 112.6,481.9 114.6,478.0 116.5,474.0 118.4,480.1 120.3,487.1 122.2,482.1 124.1,479.8 126.0,480.2 128.0,478.2 129.9,481.2 131.8,473.9 133.7,484.8 135.6,484.0 137.5,485.3 139.5,481.7 141.4,483.4 143.3,486.4 145.2,487.9 147.1,487.1 149.0,489.8 151.0,491.2 152.9,489.8 154.8,495.2 156.7,489.6 158.6,489.7 160.5,490.8 162.4,494.8 164.4,487.5 166.3,481.7 168.2,490.0 170.1,495.2 172.0,495.3 173.9,494.3 175.9,494.6 177.8,488.2 179.7,488.1 181.6,495.1 183.5,491.5 185.4,486.8 187.3,480.4 189.3,486.7 191.2,486.1 193.1,488.1 195.0,489.7 196.9,488.2 198.8,481.6 200.8,482.6 202.7,481.6 204.6,480.1 206.5,479.0 208.4,486.8 210.3,485.5 212.2,480.0 214.2,481.5 216.1,477.0 218.0,479.3 219.9,482.4 221.8,485.5 223.7,484.9 225.7,484.6 227.6,484.6 229.5,492.5 231.4,493.0 233.3,490.1 235.2,488.5 237.1,487.3 239.1,486.1 241.0,490.2 242.9,484.4 244.8,485.3 246.7,485.5 248.6,489.3 250.6,488.1 252.5,485.3 254.4,493.1 256.3,491.7 258.2,487.4 260.1,489.2 262.0,487.8 264.0,492.5 265.9,479.1 267.8,480.6 269.7,481.0 271.6,477.9 273.5,480.7 275.5,472.1 277.4,475.7 279.3,473.2 281.2,478.5 283.1,480.4 285.0,490.9 287.0,489.3 288.9,488.1 290.8,483.6 292.7,483.6 294.6,480.4 296.5,484.9 298.4,479.1 300.4,481.0" fill="none" stroke="#b412c4" stroke-width="1.5" stroke-linejoin="round" />
<polyline points="70.5,472.9 72.4,456.8 74.3,441.0 76.2,465.2 78.2,469.9 80.1,477.7 82.0,486.6 83.9,480.9 85.8,484.4 87.7,488.3 89.7,480.6 91.6,476.4 93.5,476.7 95.4,472.1 97.3,474.8 99.2,460.6 101.1,468.5 103.1,473.4 105.0,465.9 106.9,450.1 108.8,435.0 110.7,458.8 112.6,462.4 114.6,468.1 116.5,471.6 118.4,473.7 120.3,473.3 122.2,476.8 124.1,474.7 126.0,465.0 128.0,467.7 129.9,473.9 131.8,470.6 133.7,474.4 135.6,476.7 137.5,479.3 139.5,473.0 141.4,476.9 143.3,469.1 145.2,474.1 147.1,476.5 149.0,473.3 151.0,473.8 152.9,473.4 154.8,471.9 156.7,472.8 158.6,471.0 160.5,457.6 162.4,440.0 164.4,467.8 166.3,475.3 168.2,473.6 170.1,478.4 172.0,477.6 173.9,483.5 175.9,480.3 177.8,469.3 179.7,468.8 181.6,465.9 183.5,469.5 185.4,472.2 187.3,474.9 189.3,475.0 191.2,479.5 193.1,479.1 195.0,478.6 196.9,475.8 198.8,475.7 200.8,473.9 202.7,464.2 204.6,458.4 206.5,456.8 208.4,466.7 210.3,479.6 212.2,481.5 214.2,476.1 216.1,476.3 218.0,478.5 219.9,478.1 221.8,484.7 223.7,481.1 225.7,476.7 227.6,456.7 229.5,442.0 231.4,445.9 233.3,461.2 235.2,472.8 237.1,476.3 239.1,472.4 241.0,476.6 242.9,478.2 244.8,474.7 246.7,475.1 248.6,474.6 250.6,472.2 252.5,469.5 254.4,470.3 256.3,473.2 258.2,464.0 260.1,465.9 262.0,474.3 264.0,476.4 265.9,476.3 267.8,471.6 269.7,471.9 271.6,477.8 273.5,457.4 275.5,466.9 277.4,476.6 279.3,477.4 281.2,484.7 283.1,474.5 285.0,462.9 287.0,446.5 288.9,462.3 290.8,471.0 292.7,474.8 294.6,477.6 296.5,479.5 298.4,477.8 300.4,475.8" fill="none" stroke="#b412c4" stroke-width="1.5" stroke-linejoin="round" />
<polyline points="70.5,481.5 72.4,460.8 74.3,442.4 76.2,415.0 78.2,454.2 80.1,470.9 82.0,481.0 83.9,483.3 85.8,481.1 87.7,482.0 89.7,479.5 91.6,487.5 93.5,476.0 95.4,471.9 97.3,476.0 99.2,480.7 101.1,479.9 103.1,476.9 105.0,476.0 106.9,475.6 108.8,478.2 110.7,474.4 112.6,444.0 114.6,468.3 116.5,476.7 118.4,485.3 120.3,488.3 122.2,448.0 124.1,462.3 126.0,480.4 128.0,475.4 129.9,476.1 131.8,483.1 133.7,483.9 135.6,472.9 137.5,478.3 139.5,482.6 141.4,476.3 143.3,477.0 145.2,477.7 147.1,472.4 149.0,481.9 151.0,479.1 152.9,483.1 154.8,486.9 156.7,486.9 158.6,479.2 160.5,479.6 162.4,486.5 164.4,480.8 166.3,461.8 168.2,447.0 170.1,466.1 172.0,465.1 173.9,475.2 175.9,481.3 177.8,480.9 179.7,476.4 181.6,471.0 183.5,470.1 185.4,475.3 187.3,478.9 189.3,484.6 191.2,482.6 193.1,483.5 195.0,480.7 196.9,484.9 198.8,484.5 200.8,464.7 202.7,470.6 204.6,488.9 206.5,488.9 208.4,489.6 210.3,483.0 212.2,481.0 214.2,485.3 216.1,480.7 218.0,478.8 219.9,473.1 221.8,476.2 223.7,478.1 225.7,475.1 227.6,467.7 229.5,450.0 231.4,463.5 233.3,453.1 235.2,464.8 237.1,477.2 239.1,476.9 241.0,481.4 242.9,479.5 244.8,483.2 246.7,484.8 248.6,481.8 250.6,472.3 252.5,471.0 254.4,474.1 256.3,476.7 258.2,473.7 260.1,470.3 262.0,468.9 264.0,473.6 265.9,475.0 267.8,477.8 269.7,479.4 271.6,482.5 273.5,482.1 275.5,489.3 277.4,489.9 279.3,483.8 281.2,485.5 283.1,480.7 285.0,485.1 287.0,449.5 288.9,463.0 290.8,483.9 292.7,484.7 294.6,472.6 296.5,462.2 298.4,469.4 300.4,482.4" fill="none" stroke="#b412c4" stroke-width="1.5" stroke-linejoin="round" />
<polyline points="70.5,473.0 72.4,473.8 74.3,479.1 76.2,475.5 78.2,463.4 80.1,447.5 82.0,458.3 83.9,470.5 85.8,476.8 87.7,474.9 89.7,477.5 91.6,466.5 93.5,477.0 95.4,469.4 97.3,467.1 99.2,472.9 101.1,474.4 103.1,463.7 105.0,472.2 106.9,473.2 108.8,478.5 110.7,467.0 112.6,450.9 114.6,463.7 116.5,476.2 118.4,475.4 120.3,473.6 122.2,451.1 124.1,432.5 126.0,450.4 128.0,465.1 129.9,474.0 131.8,477.4 133.7,477.0 135.6,470.0 137.5,474.6 139.5,474.6 141.4,471.7 143.3,466.4 145.2,460.2 147.1,465.1 149.0,465.4 151.0,474.7 152.9,473.9 154.8,479.3 156.7,481.4 158.6,474.0 160.5,469.9 162.4,473.4 164.4,469.5 166.3,473.3 168.2,471.2 170.1,470.9 172.0,465.4 173.9,439.5 175.9,461.1 177.8,468.9 179.7,454.8 181.6,465.7 183.5,470.8 185.4,465.5 187.3,473.3 189.3,474.6 191.2,474.9 193.1,474.2 195.0,460.9 196.9,468.7 198.8,482.2 200.8,482.3 202.7,482.6 204.6,476.3 206.5,477.7 208.4,482.5 210.3,474.7 212.2,473.7 214.2,471.1 216.1,471.9 218.0,474.4 219.9,471.5 221.8,478.0 223.7,479.6 225.7,476.4 227.6,474.2 229.5,456.6 231.4,466.5 233.3,472.6 235.2,477.9 237.1,475.1 239.1,466.3 241.0,450.0 242.9,469.1 244.8,478.9 246.7,476.7 248.6,474.8 250.6,471.9 252.5,479.3 254.4,478.0 256.3,477.5 258.2,478.3 260.1,487.5 262.0,476.4 264.0,475.9 265.9,468.4 267.8,454.4 269.7,465.4 271.6,466.6 273.5,464.1 275.5,470.2 277.4,469.9 279.3,469.5 281.2,469.7 283.1,472.9 285.0,476.8 287.0,478.6 288.9,474.2 290.8,469.9 292.7,470.1 294.6,471.5 296.5,474.0 298.4,473.3 300.4,469.2" fill="none" stroke="#b412c4" stroke-width="1.5" stroke-linejoin="round" />
<polyline points="70.5,474.5 72.4,473.7 74.3,476.1 76.2,479.2 78.2,476.6 80.1,480.1 82.0,470.7 83.9,450.4 85.8,433.5 87.7,455.2 89.7,466.9 91.6,470.1 93.5,468.1 95.4,479.8 97.3,478.7 99.2,482.8 101.1,482.0 103.1,480.1 105.0,473.7 106.9,474.9 108.8,469.0 110.7,474.0 112.6,475.1 114.6,475.2 116.5,471.9 118.4,473.8 120.3,477.2 122.2,478.1 124.1,482.9 126.0,475.3 128.0,465.4 129.9,451.0 131.8,436.0 133.7,456.8 135.6,466.6 137.5,474.2 139.5,478.1 141.4,480.4 143.3,472.6 145.2,467.9 147.1,470.1 149.0,470.5 151.0,472.1 152.9,468.2 154.8,473.1 156.7,474.1 158.6,473.0 160.5,468.7 162.4,472.7 164.4,473.2 166.3,476.3 168.2,478.9 170.1,450.6 172.0,463.5 173.9,474.1 175.9,477.6 177.8,479.4 179.7,479.7 181.6,477.0 183.5,465.1 185.4,447.0 187.3,426.0 189.3,454.8 191.2,468.5 193.1,479.9 195.0,482.6 196.9,482.9 198.8,480.5 200.8,482.6 202.7,479.3 204.6,477.5 206.5,476.7 208.4,475.4 210.3,472.4 212.2,476.8 214.2,476.5 216.1,476.5 218.0,462.0 219.9,464.2 221.8,470.3 223.7,482.0 225.7,481.5 227.6,479.0 229.5,476.6 231.4,474.6 233.3,477.9 235.2,474.6 237.1,473.6 239.1,476.2 241.0,446.6 242.9,461.6 244.8,472.7 246.7,462.3 248.6,449.4 250.6,429.0 252.5,449.4 254.4,463.3 256.3,476.9 258.2,470.0 260.1,464.1 262.0,470.3 264.0,488.1 265.9,481.7 267.8,475.3 269.7,471.8 271.6,475.1 273.5,469.9 275.5,472.8 277.4,476.4 279.3,476.1 281.2,442.3 283.1,441.7 285.0,443.6 287.0,450.5 288.9,455.3 290.8,450.6 292.7,456.6 294.6,457.0 296.5,460.7 298.4,465.5 300.4,460.3" fill="none" stroke="#b412c4" stroke-width="1.5" stroke-linejoin="round" />
<polyline points="70.5,481.1 72.4,475.5 74.3,472.7 76.2,478.2 78.2,489.1 80.1,481.6 82.0,480.2 83.9,480.6 85.8,471.8 87.7,470.3 89.7,437.5 91.6,467.4 93.5,468.6 95.4,477.9 97.3,480.3 99.2,479.4 101.1,472.8 103.1,472.7 105.0,485.2 106.9,483.2 108.8,479.8 110.7,479.5 112.6,453.0 114.6,464.7 116.5,476.2 118.4,477.2 120.3,481.7 122.2,479.8 124.1,479.4 126.0,479.9 128.0,463.4 129.9,470.0 131.8,475.1 133.7,466.5 135.6,437.5 137.5,471.9 139.5,475.8 141.4,480.9 143.3,489.5 145.2,488.6 147.1,491.9 149.0,492.2 151.0,487.7 152.9,484.5 154.8,487.6 156.7,486.3 158.6,487.7 160.5,486.9 162.4,489.1 164.4,490.4 166.3,484.0 168.2,484.7 170.1,490.3 172.0,484.5 173.9,483.0 175.9,480.5 177.8,481.5 179.7,480.0 181.6,479.6 183.5,487.4 185.4,485.8 187.3,482.2 189.3,479.4 191.2,474.2 193.1,458.1 195.0,444.0 196.9,459.4 198.8,478.4 200.8,476.5 202.7,476.2 204.6,475.9 206.5,477.3 208.4,479.8 210.3,476.8 212.2,475.4 214.2,475.5 216.1,480.4 218.0,474.9 219.9,485.2 221.8,486.6 223.7,456.6 225.7,466.6 227.6,490.8 229.5,489.0 231.4,483.7 233.3,487.9 235.2,479.4 237.1,462.8 239.1,469.7 241.0,485.1 242.9,456.3 244.8,466.4 246.7,473.7 248.6,457.0 250.6,442.5 252.5,466.5 254.4,472.9 256.3,483.9 258.2,476.9 260.1,476.1 262.0,479.1 264.0,480.4 265.9,478.9 267.8,479.3 269.7,484.9 271.6,477.6 273.5,474.1 275.5,478.7 277.4,479.3 279.3,476.1 281.2,480.5 283.1,478.3 285.0,474.4 287.0,476.8 288.9,475.8 290.8,483.6 292.7,478.8 294.6,477.2 296.5,476.0 298.4,472.9 300.4,484.9" fill="none" stroke="#b412c4" stroke-width="1.5" stroke-linejoin="round" />
<polyline points="70.5,472.7 72.4,471.5 74.3,470.9 76.2,469.2 78.2,474.0 80.1,478.5 82.0,475.7 83.9,474.8 85.8,484.2 87.7,479.5 89.7,474.1 91.6,436.5 93.5,469.6 95.4,471.1 97.3,480.7 99.2,468.6 101.1,468.0 103.1,466.2 105.0,469.0 106.9,479.6 108.8,477.2 110.7,478.7 112.6,475.9 114.6,476.3 116.5,473.5 118.4,477.8 120.3,478.4 122.2,450.4 124.1,463.5 126.0,479.8 128.0,475.8 129.9,468.5 131.8,472.2 133.7,453.3 135.6,459.6 137.5,448.5 139.5,464.0 141.4,470.6 143.3,478.4 145.2,454.2 147.1,465.4 149.0,470.2 151.0,468.9 152.9,469.5 154.8,454.3 156.7,465.4 158.6,477.6 160.5,480.1 162.4,485.4 164.4,486.5 166.3,487.1 168.2,482.9 170.1,479.7 172.0,483.2 173.9,480.6 175.9,477.2 177.8,473.1 179.7,474.5 181.6,474.2 183.5,476.3 185.4,472.6 187.3,479.8 189.3,477.3 191.2,485.5 193.1,475.1 195.0,471.9 196.9,481.5 198.8,481.2 200.8,484.4 202.7,487.7 204.6,469.4 206.5,459.8 208.4,415.0 210.3,453.6 212.2,473.1 214.2,479.6 216.1,476.6 218.0,473.2 219.9,472.3 221.8,479.4 223.7,481.1 225.7,479.7 227.6,481.4 229.5,476.3 231.4,477.4 233.3,477.1 235.2,478.0 237.1,477.0 239.1,482.3 241.0,471.7 242.9,465.1 244.8,470.8 246.7,484.2 248.6,454.7 250.6,465.6 252.5,479.7 254.4,473.6 256.3,472.2 258.2,475.4 260.1,467.1 262.0,450.7 264.0,436.0 265.9,457.3 267.8,471.0 269.7,475.0 271.6,480.1 273.5,485.1 275.5,476.9 277.4,479.3 279.3,479.3 281.2,476.7 283.1,478.2 285.0,481.8 287.0,480.2 288.9,482.1 290.8,477.5 292.7,478.6 294.6,478.5 296.5,474.5 298.4,481.0 300.4,484.6" fill="none" stroke="#b412c4" stroke-width="1.5" stroke-linejoin="round" />
<polyline points="70.5,485.9 72.4,489.0 74.3,485.7 76.2,482.6 78.2,488.8 80.1,488.8 82.0,481.3 83.9,485.7 85.8,448.1 87.7,462.3 89.7,490.6 91.6,488.5 93.5,479.6 95.4,460.6 97.3,446.5 99.2,480.2 101.1,483.3 103.1,484.3 105.0,455.4 106.9,465.9 108.8,480.7 110.7,482.5 112.6,480.2 114.6,475.8 116.5,481.7 118.4,486.3 120.3,484.5 122.2,484.6 124.1,490.7 126.0,486.3 128.0,481.1 129.9,482.1 131.8,478.6 133.7,484.2 135.6,475.7 137.5,467.2 139.5,440.0 141.4,453.7 143.3,465.1 145.2,485.4 147.1,483.0 149.0,480.3 151.0,478.9 152.9,478.7 154.8,481.1 156.7,482.5 158.6,481.7 160.5,487.9 162.4,482.5 164.4,488.4 166.3,487.7 168.2,493.7 170.1,483.6 172.0,484.2 173.9,481.3 175.9,481.8 177.8,480.5 179.7,480.0 181.6,479.6 183.5,476.7 185.4,484.2 187.3,481.6 189.3,453.0 191.2,448.2 193.1,462.3 195.0,481.7 196.9,482.9 198.8,447.2 200.8,461.9 202.7,485.3 204.6,473.5 206.5,460.2 208.4,432.5 210.3,456.2 212.2,470.5 214.2,474.7 216.1,478.0 218.0,482.6 219.9,478.8 221.8,476.9 223.7,482.6 225.7,477.1 227.6,475.5 229.5,479.7 231.4,481.6 233.3,477.1 235.2,481.1 237.1,487.7 239.1,488.0 241.0,486.9 242.9,488.6 244.8,479.3 246.7,481.4 248.6,481.6 250.6,484.0 252.5,481.6 254.4,482.3 256.3,483.3 258.2,482.8 260.1,480.5 262.0,491.9 264.0,486.2 265.9,488.0 267.8,486.3 269.7,482.8 271.6,482.9 273.5,486.7 275.5,479.0 277.4,466.3 279.3,461.3 281.2,432.0 283.1,467.0 285.0,473.9 287.0,476.4 288.9,481.9 290.8,478.6 292.7,477.1 294.6,478.0 296.5,475.2 298.4,478.4 300.4,481.2" fill="none" stroke="#b412c4" stroke-width="1.5" stroke-linejoin="round" />
<polyline points="70.5,480.1 72.4,474.6 74.3,478.6 76.2,480.6 78.2,480.6 80.1,485.8 82.0,479.4 83.9,484.6 85.8,480.9 87.7,476.1 89.7,481.1 91.6,481.5 93.5,481.9 95.4,474.7 97.3,476.0 99.2,484.5 101.1,473.0 103.1,459.9 105.0,446.5 106.9,470.3 108.8,474.5 110.7,478.9 112.6,487.6 114.6,480.7 116.5,475.2 118.4,486.4 120.3,479.2 122.2,477.0 124.1,478.4 126.0,481.9 128.0,479.9 129.9,483.2 131.8,481.5 133.7,482.1 135.6,483.1 137.5,480.0 139.5,476.4 141.4,474.6 143.3,457.7 145.2,467.1 147.1,446.3 149.0,461.4 151.0,433.5 152.9,463.4 154.8,476.5 156.7,485.4 158.6,484.6 160.5,482.2 162.4,472.8 164.4,475.0 166.3,477.5 168.2,477.1 170.1,474.7 172.0,477.6 173.9,472.3 175.9,480.2 177.8,475.5 179.7,474.8 181.6,473.2 183.5,470.2 185.4,475.2 187.3,475.7 189.3,476.6 191.2,446.7 193.1,461.6 195.0,485.2 196.9,480.0 198.8,488.9 200.8,490.5 202.7,486.2 204.6,478.9 206.5,479.9 208.4,475.3 210.3,477.6 212.2,480.8 214.2,486.6 216.1,483.4 218.0,471.8 219.9,455.9 221.8,439.0 223.7,463.9 225.7,476.7 227.6,487.6 229.5,480.5 231.4,462.2 233.3,469.3 235.2,476.7 237.1,478.7 239.1,478.7 241.0,480.6 242.9,476.5 244.8,483.0 246.7,489.3 248.6,489.0 250.6,465.5 252.5,471.0 254.4,491.1 256.3,475.9 258.2,481.3 260.1,463.6 262.0,470.0 264.0,478.1 265.9,479.7 267.8,486.0 269.7,481.8 271.6,485.0 273.5,483.9 275.5,479.6 277.4,481.4 279.3,487.9 281.2,475.7 283.1,468.6 285.0,436.0 287.0,462.4 288.9,472.1 290.8,480.6 292.7,476.4 294.6,476.5 296.5,477.5 298.4,479.8 300.4,478.3" fill="none" stroke="#b412c4" stroke-width="1.5" stroke-linejoin="round" />
<polyline points="70.5,475.2 72.4,471.3 74.3,476.1 76.2,475.1 78.2,476.0 80.1,478.9 82.0,479.4 83.9,483.4 85.8,482.7 87.7,476.6 89.7,475.7 91.6,475.4 93.5,477.2 95.4,478.0 97.3,476.2 99.2,474.7 101.1,476.6 103.1,477.9 105.0,476.1 106.9,480.9 108.8,478.0 110.7,479.1 112.6,477.7 114.6,475.8 116.5,479.8 118.4,480.3 120.3,478.7 122.2,476.1 124.1,475.1 126.0,477.5 128.0,478.3 129.9,479.0 131.8,483.1 133.7,487.0 135.6,478.0 137.5,476.2 139.5,478.6 141.4,486.1 143.3,480.4 145.2,476.0 147.1,476.4 149.0,477.5 151.0,487.5 152.9,481.5 154.8,478.1 156.7,469.1 158.6,467.2 160.5,467.1 162.4,467.6 164.4,473.1 166.3,477.5 168.2,479.2 170.1,477.5 172.0,479.3 173.9,482.1 175.9,483.0 177.8,481.7 179.7,480.7 181.6,480.6 183.5,482.2 185.4,483.1 187.3,478.1 189.3,478.9 191.2,485.0 193.1,485.4 195.0,481.1 196.9,481.5 198.8,479.9 200.8,475.6 202.7,476.3 204.6,474.2 206.5,481.6 208.4,486.0 210.3,492.7 212.2,491.1 214.2,491.5 216.1,485.4 218.0,484.2 219.9,482.1 221.8,479.7 223.7,477.1 225.7,483.8 227.6,482.7 229.5,479.5 231.4,476.6 233.3,479.2 235.2,483.9 237.1,484.1 239.1,481.3 241.0,472.3 242.9,476.8 244.8,479.7 246.7,482.5 248.6,478.8 250.6,481.2 252.5,478.6 254.4,475.8 256.3,473.7 258.2,472.5 260.1,470.9 262.0,471.4 264.0,474.9 265.9,478.4 267.8,485.3 269.7,488.7 271.6,485.3 273.5,479.2 275.5,480.5 277.4,482.3 279.3,482.3 281.2,477.3 283.1,477.6 285.0,480.8 287.0,478.5 288.9,484.4 290.8,484.9 292.7,480.5 294.6,482.4 296.5,483.1 298.4,480.4 300.4,481.6" fill="none" stroke="#000" stroke-width="1.2" stroke-linejoin="round" />
<polyline points="70.5,479.8 72.4,486.3 74.3,484.4 76.2,481.7 78.2,479.4 80.1,486.0 82.0,487.2 83.9,482.7 85.8,477.7 87.7,480.9 89.7,471.4 91.6,465.9 93.5,471.8 95.4,471.4 97.3,476.3 99.2,478.1 101.1,479.0 103.1,476.6 105.0,475.5 106.9,473.9 108.8,473.7 110.7,477.4 112.6,463.6 114.6,455.9 116.5,466.2 118.4,477.8 120.3,477.7 122.2,480.7 124.1,476.7 126.0,475.2 128.0,474.7 129.9,476.0 131.8,475.0 133.7,473.6 135.6,476.7 137.5,482.3 139.5,480.0 141.4,477.6 143.3,485.0 145.2,477.2 147.1,478.1 149.0,473.5 151.0,474.3 152.9,475.9 154.8,475.2 156.7,480.3 158.6,475.4 160.5,472.9 162.4,479.5 164.4,479.5 166.3,483.6 168.2,484.2 170.1,481.6 172.0,486.7 173.9,481.4 175.9,483.5 177.8,477.3 179.7,479.3 181.6,477.7 183.5,478.9 185.4,483.4 187.3,482.6 189.3,481.1 191.2,485.2 193.1,480.2 195.0,479.9 196.9,480.1 198.8,481.6 200.8,482.0 202.7,479.7 204.6,482.2 206.5,483.2 208.4,478.5 210.3,478.4 212.2,483.3 214.2,480.3 216.1,480.0 218.0,478.6 219.9,479.2 221.8,475.7 223.7,480.8 225.7,483.5 227.6,481.4 229.5,474.8 231.4,475.4 233.3,477.5 235.2,475.1 237.1,474.0 239.1,476.2 241.0,478.0 242.9,479.1 244.8,477.5 246.7,477.1 248.6,478.0 250.6,480.3 252.5,481.4 254.4,481.8 256.3,482.8 258.2,475.8 260.1,484.5 262.0,481.5 264.0,484.9 265.9,480.3 267.8,472.3 269.7,475.0 271.6,479.6 273.5,478.2 275.5,478.8 277.4,479.5 279.3,474.7 281.2,477.7 283.1,479.1 285.0,477.4 287.0,477.1 288.9,478.6 290.8,478.1 292.7,475.2 294.6,478.0 296.5,473.3 298.4,472.3 300.4,470.9" fill="none" stroke="#000" stroke-width="1.2" stroke-linejoin="round" />
<polyline points="70.5,475.7 72.4,480.2 74.3,482.4 76.2,487.0 78.2,487.7 80.1,488.5 82.0,485.5 83.9,481.9 85.8,479.6 87.7,482.2 89.7,480.6 91.6,483.5 93.5,486.9 95.4,482.5 97.3,480.9 99.2,477.1 101.1,480.8 103.1,479.4 105.0,478.4 106.9,478.2 108.8,481.5 110.7,476.1 112.6,477.0 114.6,480.9 116.5,479.0 118.4,480.8 120.3,478.8 122.2,477.0 124.1,480.7 126.0,472.2 128.0,477.0 129.9,473.6 131.8,471.4 133.7,468.4 135.6,473.1 137.5,474.8 139.5,476.4 141.4,479.3 143.3,483.4 145.2,483.5 147.1,481.3 149.0,483.5 151.0,475.7 152.9,477.5 154.8,477.0 156.7,477.5 158.6,476.4 160.5,475.8 162.4,475.8 164.4,478.3 166.3,481.6 168.2,474.5 170.1,472.5 172.0,471.1 173.9,474.8 175.9,474.2 177.8,478.0 179.7,479.7 181.6,480.4 183.5,478.3 185.4,478.2 187.3,482.8 189.3,488.8 191.2,485.9 193.1,482.7 195.0,486.3 196.9,480.8 198.8,484.9 200.8,478.6 202.7,479.1 204.6,477.3 206.5,477.9 208.4,478.2 210.3,480.1 212.2,478.7 214.2,475.9 216.1,480.5 218.0,479.0 219.9,482.4 221.8,484.6 223.7,482.4 225.7,475.4 227.6,473.1 229.5,471.9 231.4,468.5 233.3,464.9 235.2,467.1 237.1,469.7 239.1,472.0 241.0,478.0 242.9,469.8 244.8,470.6 246.7,476.1 248.6,471.7 250.6,477.3 252.5,479.8 254.4,479.8 256.3,480.0 258.2,479.2 260.1,478.6 262.0,475.4 264.0,474.7 265.9,475.3 267.8,475.2 269.7,473.3 271.6,473.2 273.5,466.3 275.5,466.2 277.4,461.0 279.3,476.9 281.2,475.2 283.1,469.9 285.0,475.0 287.0,472.9 288.9,471.4 290.8,473.8 292.7,475.4 294.6,470.8 296.5,478.2 298.4,478.7 300.4,478.4" fill="none" stroke="#000" stroke-width="1.2" stroke-linejoin="round" />
<polyline points="70.5,479.1 72.4,486.6 74.3,482.5 76.2,478.8 78.2,477.5 80.1,479.3 82.0,484.0 83.9,483.6 85.8,482.4 87.7,479.2 89.7,481.5 91.6,484.0 93.5,484.2 95.4,485.2 97.3,482.9 99.2,486.9 101.1,490.3 103.1,486.6 105.0,476.2 106.9,474.2 108.8,471.8 110.7,475.3 112.6,470.6 114.6,473.3 116.5,468.0 118.4,472.5 120.3,472.8 122.2,475.0 124.1,472.5 126.0,470.7 128.0,473.9 129.9,474.6 131.8,481.7 133.7,478.6 135.6,474.0 137.5,476.1 139.5,473.2 141.4,479.1 143.3,478.9 145.2,476.9 147.1,474.3 149.0,470.4 151.0,475.4 152.9,480.4 154.8,478.6 156.7,474.2 158.6,474.7 160.5,476.3 162.4,478.4 164.4,476.6 166.3,472.2 168.2,469.9 170.1,473.9 172.0,480.5 173.9,482.5 175.9,482.8 177.8,488.1 179.7,485.7 181.6,481.6 183.5,478.7 185.4,477.7 187.3,483.0 189.3,486.0 191.2,480.3 193.1,475.4 195.0,474.0 196.9,473.4 198.8,478.8 200.8,477.8 202.7,480.2 204.6,482.0 206.5,480.0 208.4,476.3 210.3,483.2 212.2,484.1 214.2,480.0 216.1,487.3 218.0,476.6 219.9,474.5 221.8,468.0 223.7,470.9 225.7,475.8 227.6,475.5 229.5,476.7 231.4,474.7 233.3,474.5 235.2,469.3 237.1,469.1 239.1,476.2 241.0,478.5 242.9,478.9 244.8,474.7 246.7,473.9 248.6,479.4 250.6,477.3 252.5,476.1 254.4,473.5 256.3,475.4 258.2,476.2 260.1,468.6 262.0,470.3 264.0,473.7 265.9,472.3 267.8,474.8 269.7,474.1 271.6,478.8 273.5,479.1 275.5,477.1 277.4,481.3 279.3,475.8 281.2,478.0 283.1,477.2 285.0,478.2 287.0,479.6 288.9,481.8 290.8,476.8 292.7,475.4 294.6,481.0 296.5,483.4 298.4,485.4 300.4,480.6" fill="none" stroke="#000" stroke-width="1.2" stroke-linejoin="round" />
<circle cx="76.0" cy="415.0" r="4.1" fill="#ff0000" />
<circle cx="74.0" cy="441.0" r="4.1" fill="#ff0000" />
<circle cx="80.0" cy="447.5" r="4.1" fill="#ff0000" />
<circle cx="86.0" cy="433.5" r="4.1" fill="#ff0000" />
<circle cx="89.0" cy="437.5" r="4.1" fill="#ff0000" />
<circle cx="92.5" cy="436.5" r="4.1" fill="#ff0000" />
<circle cx="97.5" cy="446.5" r="4.1" fill="#ff0000" />
<circle cx="105.0" cy="446.5" r="4.1" fill="#ff0000" />
<circle cx="109.0" cy="435.0" r="4.1" fill="#ff0000" />
<circle cx="112.5" cy="444.0" r="4.1" fill="#ff0000" />
<circle cx="124.0" cy="432.5" r="4.1" fill="#ff0000" />
<circle cx="131.0" cy="436.0" r="4.1" fill="#ff0000" />
<circle cx="136.0" cy="437.5" r="4.1" fill="#ff0000" />
<circle cx="137.5" cy="448.5" r="4.1" fill="#ff0000" />
<circle cx="140.0" cy="440.0" r="4.1" fill="#ff0000" />
<circle cx="150.0" cy="433.5" r="4.1" fill="#ff0000" />
<circle cx="162.5" cy="440.0" r="4.1" fill="#ff0000" />
<circle cx="168.0" cy="447.0" r="4.1" fill="#ff0000" />
<circle cx="173.5" cy="439.5" r="4.1" fill="#ff0000" />
<circle cx="187.5" cy="426.0" r="4.1" fill="#ff0000" />
<circle cx="195.0" cy="444.0" r="4.1" fill="#ff0000" />
<circle cx="208.0" cy="415.0" r="4.1" fill="#ff0000" />
<circle cx="208.0" cy="432.5" r="4.1" fill="#ff0000" />
<circle cx="221.5" cy="439.0" r="4.1" fill="#ff0000" />
<circle cx="229.0" cy="442.0" r="4.1" fill="#ff0000" />
<circle cx="229.0" cy="450.0" r="4.1" fill="#ff0000" />
<circle cx="241.0" cy="450.0" r="4.1" fill="#ff0000" />
<circle cx="250.0" cy="429.0" r="4.1" fill="#ff0000" />
<circle cx="250.0" cy="442.5" r="4.1" fill="#ff0000" />
<circle cx="264.0" cy="436.0" r="4.1" fill="#ff0000" />
<circle cx="281.5" cy="432.0" r="4.1" fill="#ff0000" />
<circle cx="285.0" cy="436.0" r="4.1" fill="#ff0000" />
<circle cx="287.5" cy="446.5" r="4.1" fill="#ff0000" />
<g stroke="#222" stroke-width="1.3">
<line x1="70.80" y1="373.30" x2="70.80" y2="528.20" stroke="#000" stroke-width="1" />
<line x1="70.20" y1="527.60" x2="299.70" y2="527.60" stroke="#000" stroke-width="1" />
<line x1="66.80" y1="508.70" x2="70.80" y2="508.70" stroke="#000" stroke-width="1" />
<line x1="66.80" y1="476.50" x2="70.80" y2="476.50" stroke="#000" stroke-width="1" />
<line x1="66.80" y1="444.30" x2="70.80" y2="444.30" stroke="#000" stroke-width="1" />
<line x1="66.80" y1="412.10" x2="70.80" y2="412.10" stroke="#000" stroke-width="1" />
<line x1="66.80" y1="379.90" x2="70.80" y2="379.90" stroke="#000" stroke-width="1" />
<line x1="70.80" y1="527.60" x2="70.80" y2="531.80" stroke="#000" stroke-width="1" />
<line x1="134.65" y1="527.60" x2="134.65" y2="531.80" stroke="#000" stroke-width="1" />
<line x1="198.50" y1="527.60" x2="198.50" y2="531.80" stroke="#000" stroke-width="1" />
<line x1="262.35" y1="527.60" x2="262.35" y2="531.80" stroke="#000" stroke-width="1" />
</g>
<text x="64.00" y="513.80" font-size="14.7" text-anchor="end" fill="#000" stroke="#000" stroke-width="0.22" font-weight="normal" >0.75</text>
<text x="64.00" y="481.60" font-size="14.7" text-anchor="end" fill="#000" stroke="#000" stroke-width="0.22" font-weight="normal" >1.00</text>
<text x="64.00" y="449.40" font-size="14.7" text-anchor="end" fill="#000" stroke="#000" stroke-width="0.22" font-weight="normal" >1.25</text>
<text x="64.00" y="417.20" font-size="14.7" text-anchor="end" fill="#000" stroke="#000" stroke-width="0.22" font-weight="normal" >1.50</text>
<text x="64.00" y="385.00" font-size="14.7" text-anchor="end" fill="#000" stroke="#000" stroke-width="0.22" font-weight="normal" >1.75</text>
<text x="68.30" y="547.60" font-size="15.4" text-anchor="middle" fill="#000" stroke="#000" stroke-width="0.22" font-weight="normal" >0</text>
<text x="132.15" y="547.60" font-size="15.4" text-anchor="middle" fill="#000" stroke="#000" stroke-width="0.22" font-weight="normal" >100</text>
<text x="196.00" y="547.60" font-size="15.4" text-anchor="middle" fill="#000" stroke="#000" stroke-width="0.22" font-weight="normal" >200</text>
<text x="259.85" y="547.60" font-size="15.4" text-anchor="middle" fill="#000" stroke="#000" stroke-width="0.22" font-weight="normal" >300</text>
<text x="190.00" y="564.70" font-size="15.7" text-anchor="middle" fill="#000" stroke="#000" stroke-width="0.22" font-weight="normal" >time (min)</text>
<text transform="translate(24.60,444.00) rotate(-90)" font-size="15.5" text-anchor="middle" fill="#000" stroke="#000" stroke-width="0.22">ERK activity</text>
<polyline points="87.9,657.1 88.9,680.5 89.9,705.2 90.9,709.1 91.2,713.7 92.2,709.8 93.1,709.1 93.8,693.5 94.8,652.6 95.7,674.0 96.7,698.1 97.4,698.7 98.0,684.4 98.7,662.3 99.6,671.4 100.3,681.2 101.3,660.4 102.3,684.4 103.5,711.7 104.5,687.0 105.8,648.0 107.1,664.9 107.8,667.5 109.1,675.3 110.4,680.5 111.7,694.8 113.0,709.1 114.3,712.4 115.2,680.5 116.0,648.7 116.9,661.0 117.5,675.3 118.6,664.9 119.5,674.0 120.1,655.8 121.2,672.7 122.5,689.6 123.8,709.1 124.7,715.0 125.6,714.3 126.6,710.4 127.9,706.5 129.2,703.9 130.5,695.5 131.6,705.9 132.5,693.5 133.4,674.7 134.4,690.9 135.7,710.4 136.4,705.9 137.0,707.8 138.1,709.1 139.0,706.5 139.9,709.8 140.9,702.6 142.0,707.8 142.9,705.9 143.5,702.6 144.2,709.8 145.1,707.8 146.1,704.6 147.2,707.2 148.1,703.9 148.7,708.5 149.8,702.6 150.7,696.1 151.6,667.5 152.4,644.8 153.3,674.0 154.2,697.4 155.0,707.8 155.9,709.8 156.8,705.9 157.8,709.1 158.9,707.8 159.8,711.1 160.7,713.7 161.7,700.0 162.8,667.5 163.7,648.0 164.6,671.4 165.6,693.5 166.7,701.3 167.6,702.6 168.5,709.1 169.5,703.9 170.6,703.3" fill="none" stroke="#cc22dd" stroke-width="1.1" stroke-linejoin="round" />
<circle cx="88.3" cy="657.1" r="3.1" fill="#f04848" fill-opacity="0.6"/>
<circle cx="95.0" cy="652.6" r="3.1" fill="#f04848" fill-opacity="0.6"/>
<circle cx="98.7" cy="662.3" r="3.1" fill="#f04848" fill-opacity="0.6"/>
<circle cx="101.6" cy="661.0" r="3.1" fill="#f04848" fill-opacity="0.6"/>
<circle cx="106.5" cy="648.0" r="3.1" fill="#f04848" fill-opacity="0.6"/>
<circle cx="116.0" cy="648.7" r="3.1" fill="#f04848" fill-opacity="0.6"/>
<circle cx="120.5" cy="655.8" r="3.1" fill="#f04848" fill-opacity="0.6"/>
<circle cx="152.4" cy="644.8" r="3.1" fill="#f04848" fill-opacity="0.6"/>
<circle cx="163.7" cy="648.0" r="3.1" fill="#f04848" fill-opacity="0.6"/>
<g stroke="#333" stroke-width="1">
<line x1="86.50" y1="626.30" x2="86.50" y2="733.60" stroke="#000" stroke-width="1" />
<line x1="86.50" y1="733.10" x2="171.50" y2="733.10" stroke="#000" stroke-width="1" />
<line x1="82.80" y1="626.30" x2="86.50" y2="626.30" stroke="#000" stroke-width="1" />
<line x1="82.80" y1="639.65" x2="86.50" y2="639.65" stroke="#000" stroke-width="1" />
<line x1="82.80" y1="653.00" x2="86.50" y2="653.00" stroke="#000" stroke-width="1" />
<line x1="82.80" y1="666.35" x2="86.50" y2="666.35" stroke="#000" stroke-width="1" />
<line x1="82.80" y1="679.70" x2="86.50" y2="679.70" stroke="#000" stroke-width="1" />
<line x1="82.80" y1="693.05" x2="86.50" y2="693.05" stroke="#000" stroke-width="1" />
<line x1="82.80" y1="706.40" x2="86.50" y2="706.40" stroke="#000" stroke-width="1" />
<line x1="82.80" y1="719.75" x2="86.50" y2="719.75" stroke="#000" stroke-width="1" />
<line x1="82.80" y1="733.10" x2="86.50" y2="733.10" stroke="#000" stroke-width="1" />
<line x1="86.80" y1="733.10" x2="86.80" y2="736.40" stroke="#000" stroke-width="1" />
<line x1="110.40" y1="733.10" x2="110.40" y2="736.40" stroke="#000" stroke-width="1" />
<line x1="134.00" y1="733.10" x2="134.00" y2="736.40" stroke="#000" stroke-width="1" />
<line x1="157.60" y1="733.10" x2="157.60" y2="736.40" stroke="#000" stroke-width="1" />
</g>
<text x="76.50" y="632.20" font-size="15.8" text-anchor="end" fill="#000" stroke="#000" stroke-width="0.22" font-weight="normal" >1.5</text>
<text x="81.20" y="738.20" font-size="15.8" text-anchor="end" fill="#000" stroke="#000" stroke-width="0.22" font-weight="normal" >0.7</text>
<text x="87.80" y="752.30" font-size="15.7" text-anchor="middle" fill="#000" stroke="#000" stroke-width="0.22" font-weight="normal" >0</text>
<text x="158.60" y="752.30" font-size="15.7" text-anchor="middle" fill="#000" stroke="#000" stroke-width="0.22" font-weight="normal" >300</text>
<text x="175.50" y="729.40" font-size="15.6" text-anchor="end" fill="#000" stroke="#000" stroke-width="0.22" font-weight="normal" >cell13</text>
<text x="129.00" y="621.20" font-size="17.3" text-anchor="middle" fill="#ff6a14" stroke="#ff6a14" stroke-width="0.22" font-weight="normal" >active cell</text>
<text transform="translate(50.30,678.90) rotate(-90)" font-size="15.8" text-anchor="middle" fill="#000" stroke="#000" stroke-width="0.22">ERK activity</text>
<polyline points="214.9,691.9 215.9,691.2 217.2,700.3 218.5,679.5 219.5,688.0 220.8,687.3 222.1,693.2 223.7,701.6 224.7,695.1 226.0,697.7 227.3,686.0 228.4,689.9 229.6,689.3 230.9,684.7 232.2,695.8 233.1,696.4 234.1,690.6 235.1,691.2 236.5,697.7 237.5,690.6 238.7,669.8 239.6,680.2 240.4,696.4 241.7,697.7 243.0,698.4 244.5,693.8 246.1,691.2 247.1,696.4 248.2,691.2 249.7,687.3 250.8,689.3 252.1,698.4 253.4,694.5 254.9,683.4 256.2,692.5 257.8,699.0 258.8,695.1 260.4,701.6 261.7,689.3 263.4,684.7 264.7,694.5 266.0,693.8 267.7,699.0 269.2,696.4 270.5,698.4 271.8,697.7 273.1,699.0 274.4,696.4 275.7,702.9 277.0,699.0 278.6,692.5 279.6,697.7 280.7,688.6 282.0,697.7 283.5,695.8 284.8,695.8 286.4,695.1 287.4,682.8 288.5,694.5 289.8,691.9 291.1,693.8 292.0,689.3 293.3,688.0 294.2,697.7 295.2,691.2 296.3,687.3 297.2,684.7 298.1,691.2 299.1,696.4" fill="none" stroke="#333" stroke-width="1.0" stroke-linejoin="round" />
<g stroke="#333" stroke-width="1">
<line x1="214.40" y1="627.70" x2="214.40" y2="733.20" stroke="#000" stroke-width="1" />
<line x1="214.40" y1="732.70" x2="300.00" y2="732.70" stroke="#000" stroke-width="1" />
<line x1="210.80" y1="627.70" x2="214.40" y2="627.70" stroke="#000" stroke-width="1" />
<line x1="210.80" y1="640.83" x2="214.40" y2="640.83" stroke="#000" stroke-width="1" />
<line x1="210.80" y1="653.95" x2="214.40" y2="653.95" stroke="#000" stroke-width="1" />
<line x1="210.80" y1="667.08" x2="214.40" y2="667.08" stroke="#000" stroke-width="1" />
<line x1="210.80" y1="680.20" x2="214.40" y2="680.20" stroke="#000" stroke-width="1" />
<line x1="210.80" y1="693.33" x2="214.40" y2="693.33" stroke="#000" stroke-width="1" />
<line x1="210.80" y1="706.45" x2="214.40" y2="706.45" stroke="#000" stroke-width="1" />
<line x1="210.80" y1="719.58" x2="214.40" y2="719.58" stroke="#000" stroke-width="1" />
<line x1="210.80" y1="732.70" x2="214.40" y2="732.70" stroke="#000" stroke-width="1" />
<line x1="214.60" y1="732.70" x2="214.60" y2="736.00" stroke="#000" stroke-width="1" />
<line x1="238.00" y1="732.70" x2="238.00" y2="736.00" stroke="#000" stroke-width="1" />
<line x1="261.40" y1="732.70" x2="261.40" y2="736.00" stroke="#000" stroke-width="1" />
<line x1="284.80" y1="732.70" x2="284.80" y2="736.00" stroke="#000" stroke-width="1" />
</g>
<text x="206.60" y="632.50" font-size="15.8" text-anchor="end" fill="#000" stroke="#000" stroke-width="0.22" font-weight="normal" >1.5</text>
<text x="207.70" y="737.70" font-size="15.8" text-anchor="end" fill="#000" stroke="#000" stroke-width="0.22" font-weight="normal" >0.7</text>
<text x="215.40" y="752.30" font-size="15.7" text-anchor="middle" fill="#000" stroke="#000" stroke-width="0.22" font-weight="normal" >0</text>
<text x="285.60" y="752.30" font-size="15.7" text-anchor="middle" fill="#000" stroke="#000" stroke-width="0.22" font-weight="normal" >300</text>
<text x="301.00" y="729.00" font-size="15.6" text-anchor="end" fill="#000" stroke="#000" stroke-width="0.22" font-weight="normal" >cell5</text>
<text x="259.60" y="621.00" font-size="17.1" text-anchor="middle" fill="#3c6cf0" stroke="#3c6cf0" stroke-width="0.22" font-weight="normal" >inactive cell</text>
<text x="76.50" y="772.60" font-size="15.7" text-anchor="start" fill="#000" stroke="#000" stroke-width="0.22" font-weight="normal" >time</text>
<line x1="110.70" y1="768.30" x2="298.00" y2="768.30" stroke="#000" stroke-width="3.1" />
<polygon points="294.8,763.9 304.5,768.3 294.8,773.0 297.6,768.3" fill="#000"/>
<g stroke="#858585" stroke-width="1.6">
<line x1="379.90" y1="349.80" x2="379.90" y2="449.80" stroke="#000" stroke-width="1" />
<line x1="379.20" y1="449.00" x2="628.00" y2="449.00" stroke="#000" stroke-width="1" />
<line x1="375.80" y1="449.00" x2="379.90" y2="449.00" stroke="#000" stroke-width="1" />
<line x1="375.80" y1="424.40" x2="379.90" y2="424.40" stroke="#000" stroke-width="1" />
<line x1="375.80" y1="399.80" x2="379.90" y2="399.80" stroke="#000" stroke-width="1" />
<line x1="375.80" y1="375.20" x2="379.90" y2="375.20" stroke="#000" stroke-width="1" />
<line x1="375.80" y1="350.60" x2="379.90" y2="350.60" stroke="#000" stroke-width="1" />
<line x1="379.90" y1="449.00" x2="379.90" y2="453.00" stroke="#000" stroke-width="1" />
<line x1="386.10" y1="449.00" x2="386.10" y2="451.60" stroke="#000" stroke-width="1" />
<line x1="392.30" y1="449.00" x2="392.30" y2="451.60" stroke="#000" stroke-width="1" />
<line x1="398.50" y1="449.00" x2="398.50" y2="451.60" stroke="#000" stroke-width="1" />
<line x1="404.70" y1="449.00" x2="404.70" y2="451.60" stroke="#000" stroke-width="1" />
<line x1="410.90" y1="449.00" x2="410.90" y2="451.60" stroke="#000" stroke-width="1" />
<line x1="417.10" y1="449.00" x2="417.10" y2="451.60" stroke="#000" stroke-width="1" />
<line x1="423.30" y1="449.00" x2="423.30" y2="451.60" stroke="#000" stroke-width="1" />
<line x1="429.50" y1="449.00" x2="429.50" y2="451.60" stroke="#000" stroke-width="1" />
<line x1="435.70" y1="449.00" x2="435.70" y2="451.60" stroke="#000" stroke-width="1" />
<line x1="441.90" y1="449.00" x2="441.90" y2="453.00" stroke="#000" stroke-width="1" />
<line x1="448.10" y1="449.00" x2="448.10" y2="451.60" stroke="#000" stroke-width="1" />
<line x1="454.30" y1="449.00" x2="454.30" y2="451.60" stroke="#000" stroke-width="1" />
<line x1="460.50" y1="449.00" x2="460.50" y2="451.60" stroke="#000" stroke-width="1" />
<line x1="466.70" y1="449.00" x2="466.70" y2="451.60" stroke="#000" stroke-width="1" />
<line x1="472.90" y1="449.00" x2="472.90" y2="451.60" stroke="#000" stroke-width="1" />
<line x1="479.10" y1="449.00" x2="479.10" y2="451.60" stroke="#000" stroke-width="1" />
<line x1="485.30" y1="449.00" x2="485.30" y2="451.60" stroke="#000" stroke-width="1" />
<line x1="491.50" y1="449.00" x2="491.50" y2="451.60" stroke="#000" stroke-width="1" />
<line x1="497.70" y1="449.00" x2="497.70" y2="451.60" stroke="#000" stroke-width="1" />
<line x1="503.90" y1="449.00" x2="503.90" y2="453.00" stroke="#000" stroke-width="1" />
<line x1="510.10" y1="449.00" x2="510.10" y2="451.60" stroke="#000" stroke-width="1" />
<line x1="516.30" y1="449.00" x2="516.30" y2="451.60" stroke="#000" stroke-width="1" />
<line x1="522.50" y1="449.00" x2="522.50" y2="451.60" stroke="#000" stroke-width="1" />
<line x1="528.70" y1="449.00" x2="528.70" y2="451.60" stroke="#000" stroke-width="1" />
<line x1="534.90" y1="449.00" x2="534.90" y2="451.60" stroke="#000" stroke-width="1" />
<line x1="541.10" y1="449.00" x2="541.10" y2="451.60" stroke="#000" stroke-width="1" />
<line x1="547.30" y1="449.00" x2="547.30" y2="451.60" stroke="#000" stroke-width="1" />
<line x1="553.50" y1="449.00" x2="553.50" y2="451.60" stroke="#000" stroke-width="1" />
<line x1="559.70" y1="449.00" x2="559.70" y2="451.60" stroke="#000" stroke-width="1" />
<line x1="565.90" y1="449.00" x2="565.90" y2="453.00" stroke="#000" stroke-width="1" />
<line x1="572.10" y1="449.00" x2="572.10" y2="451.60" stroke="#000" stroke-width="1" />
<line x1="578.30" y1="449.00" x2="578.30" y2="451.60" stroke="#000" stroke-width="1" />
<line x1="584.50" y1="449.00" x2="584.50" y2="451.60" stroke="#000" stroke-width="1" />
<line x1="590.70" y1="449.00" x2="590.70" y2="451.60" stroke="#000" stroke-width="1" />
<line x1="596.90" y1="449.00" x2="596.90" y2="451.60" stroke="#000" stroke-width="1" />
<line x1="603.10" y1="449.00" x2="603.10" y2="451.60" stroke="#000" stroke-width="1" />
<line x1="609.30" y1="449.00" x2="609.30" y2="451.60" stroke="#000" stroke-width="1" />
<line x1="615.50" y1="449.00" x2="615.50" y2="451.60" stroke="#000" stroke-width="1" />
<line x1="621.70" y1="449.00" x2="621.70" y2="451.60" stroke="#000" stroke-width="1" />
<line x1="627.90" y1="449.00" x2="627.90" y2="453.00" stroke="#000" stroke-width="1" />
</g>
<text x="375.30" y="452.30" font-size="9.2" text-anchor="end" fill="#111" stroke="#111" stroke-width="0" font-weight="bold" >0.8</text>
<text x="375.30" y="427.70" font-size="9.2" text-anchor="end" fill="#111" stroke="#111" stroke-width="0" font-weight="bold" >1.0</text>
<text x="375.30" y="403.10" font-size="9.2" text-anchor="end" fill="#111" stroke="#111" stroke-width="0" font-weight="bold" >1.2</text>
<text x="375.30" y="378.50" font-size="9.2" text-anchor="end" fill="#111" stroke="#111" stroke-width="0" font-weight="bold" >1.4</text>
<text x="375.30" y="353.90" font-size="9.2" text-anchor="end" fill="#111" stroke="#111" stroke-width="0" font-weight="bold" >1.6</text>
<text x="379.90" y="462.00" font-size="9.2" text-anchor="middle" fill="#111" stroke="#111" stroke-width="0" font-weight="bold" >0</text>
<text x="441.90" y="462.00" font-size="9.2" text-anchor="middle" fill="#111" stroke="#111" stroke-width="0" font-weight="bold" >20</text>
<text x="503.90" y="462.00" font-size="9.2" text-anchor="middle" fill="#111" stroke="#111" stroke-width="0" font-weight="bold" >40</text>
<text x="565.90" y="462.00" font-size="9.2" text-anchor="middle" fill="#111" stroke="#111" stroke-width="0" font-weight="bold" >60</text>
<text x="627.90" y="462.00" font-size="9.2" text-anchor="middle" fill="#111" stroke="#111" stroke-width="0" font-weight="bold" >80</text>
<polyline points="381.7,422.4 385.3,396.7 389.4,377.4 392.7,396.7 396.4,415.1 399.1,427.9 401.9,427.9 404.6,437.1 408.3,429.7 411.0,432.5 414.0,431.6 417.1,407.7 420.2,374.7 423.0,375.0 426.6,407.7 429.8,420.6 432.7,419.6 436.0,389.4 439.1,384.8 442.2,386.6 445.0,405.9 448.3,393.0 451.4,381.1 454.7,415.1 457.8,427.9 460.6,436.2 463.3,395.8 466.1,387.5 469.8,369.2 472.5,378.4 476.2,391.2 478.9,389.4 482.6,395.8 485.4,401.3 488.1,401.3 491.4,415.1 495.1,425.1 498.2,432.5 501.0,433.4 503.8,435.1 507.1,435.1 510.3,410.7 513.5,369.4 516.9,377.8 519.7,387.2 522.5,399.5 525.4,385.4 528.6,395.7 531.9,376.9 534.8,393.8 538.5,396.6 541.7,416.4 545.1,431.4 550.7,438.9 553.5,436.1 556.4,438.0 560.1,436.1 563.9,430.4 567.6,432.3 571.4,427.6 575.1,427.6 578.5,416.4 581.7,423.9 584.9,429.5 587.9,416.4 590.2,399.5 593.9,416.4 597.3,431.4 600.5,433.3 602.9,422.0 606.1,428.6 609.0,434.2 612.7,428.6 615.5,430.4 618.4,432.3 621.2,427.6 624.9,422.0 628.7,430.4" fill="none" stroke="#f9a93a" stroke-width="1.6" stroke-linejoin="round" />
<polyline points="380.8,428.8 384.4,425.1 387.2,405.9 390.8,391.2 395.4,383.9 398.6,381.1 401.5,400.4 404.6,420.6 408.3,425.1 411.0,427.9 414.0,428.8 417.1,416.9 420.2,416.9 426.1,415.4 429.0,415.1 432.7,385.7 436.0,406.8 439.1,418.7 442.2,418.4 445.0,421.5 448.3,413.2 451.4,420.6 454.7,385.7 457.8,413.2 460.6,416.9 463.3,420.6 466.1,416.9 469.8,418.7 472.5,416.9 476.2,420.6 478.9,424.2 482.6,419.6 485.4,379.3 488.1,380.2 491.4,391.2 495.1,415.1 498.2,432.5 501.0,429.7 503.8,427.6 507.1,427.6 510.3,410.7 513.5,422.0 516.9,422.0 519.7,427.6 522.5,422.0 525.4,420.1 528.6,422.9 531.9,420.1 534.8,386.3 538.5,389.1 541.7,418.2 545.1,425.8 547.9,380.7 550.7,372.2 553.5,393.8 556.4,420.1 560.1,423.9 562.9,434.2 565.8,435.1 568.6,436.1 571.4,433.3 575.1,434.2 578.5,416.4 581.7,390.1 584.9,377.8 587.9,381.6 590.2,392.9 593.9,407.0 597.3,422.0 600.5,431.4 602.9,433.3 606.1,408.8 609.0,412.6 612.7,425.8 615.5,435.1 618.4,435.1 621.2,433.3 624.9,382.5 628.7,373.2" fill="none" stroke="#e6559b" stroke-width="1.6" stroke-linejoin="round" />
<polyline points="383.5,434.3 389.4,437.1 392.7,428.8 395.4,429.4 398.6,424.2 401.5,424.2 404.6,389.4 407.9,373.2 411.0,383.9 414.0,393.0 417.1,413.2 420.2,428.8 426.6,433.4 429.8,428.8 432.7,429.4 436.0,433.4 439.1,427.9 442.2,418.7 445.0,375.6 448.3,385.7 451.4,402.2 454.7,418.7 457.8,428.8 463.3,430.7 466.1,405.9 469.8,378.4 472.5,414.1 476.2,423.3 478.9,427.9 482.6,430.7 485.4,428.8 488.1,430.7 491.4,382.9 495.1,381.7 498.2,402.2 501.0,424.2 503.8,431.4 507.1,436.1 510.3,429.5 513.5,422.9 516.9,431.4 520.7,429.9 527.2,426.7 531.0,429.5 533.8,429.1 537.6,431.0 541.3,431.0 545.1,416.4 547.9,406.0 550.7,405.1 553.5,422.0 556.4,424.8 560.1,435.1 562.9,407.0 565.8,380.7 569.5,372.2 572.3,367.5 575.1,386.3 578.0,410.7 580.8,420.1 583.6,423.9 587.4,423.9 590.2,422.0 593.9,422.9 597.3,433.3 599.6,429.5 602.9,416.4 606.1,416.4 609.0,417.3 612.7,422.9 615.5,424.8 618.4,417.3 621.2,425.8 624.9,422.0 628.7,418.2" fill="none" stroke="#ff1414" stroke-width="1.9" stroke-linejoin="round" />
<text x="508.60" y="357.80" font-size="17.2" text-anchor="middle" fill="#ff6a14" stroke="#ff6a14" stroke-width="0.22" font-weight="normal" >active cells</text>
<line x1="638.80" y1="370.80" x2="655.20" y2="370.80" stroke="#ff1414" stroke-width="2.2" />
<text x="662.60" y="374.80" font-size="11.5" text-anchor="start" fill="#111" stroke="#111" stroke-width="0.22" font-weight="normal" >cell3</text>
<line x1="638.80" y1="390.60" x2="655.20" y2="390.60" stroke="#e6559b" stroke-width="2.2" />
<text x="662.60" y="394.60" font-size="11.5" text-anchor="start" fill="#111" stroke="#111" stroke-width="0.22" font-weight="normal" >cell12</text>
<line x1="638.80" y1="410.50" x2="655.20" y2="410.50" stroke="#f9a93a" stroke-width="2.2" />
<text x="662.60" y="414.50" font-size="11.5" text-anchor="start" fill="#111" stroke="#111" stroke-width="0.22" font-weight="normal" >cell13</text>
<g stroke="#858585" stroke-width="1.6">
<line x1="379.90" y1="469.20" x2="379.90" y2="569.70" stroke="#000" stroke-width="1" />
<line x1="379.20" y1="568.90" x2="628.00" y2="568.90" stroke="#000" stroke-width="1" />
<line x1="375.80" y1="568.90" x2="379.90" y2="568.90" stroke="#000" stroke-width="1" />
<line x1="375.80" y1="544.17" x2="379.90" y2="544.17" stroke="#000" stroke-width="1" />
<line x1="375.80" y1="519.45" x2="379.90" y2="519.45" stroke="#000" stroke-width="1" />
<line x1="375.80" y1="494.73" x2="379.90" y2="494.73" stroke="#000" stroke-width="1" />
<line x1="375.80" y1="470.00" x2="379.90" y2="470.00" stroke="#000" stroke-width="1" />
<line x1="379.90" y1="568.90" x2="379.90" y2="572.90" stroke="#000" stroke-width="1" />
<line x1="386.10" y1="568.90" x2="386.10" y2="571.50" stroke="#000" stroke-width="1" />
<line x1="392.30" y1="568.90" x2="392.30" y2="571.50" stroke="#000" stroke-width="1" />
<line x1="398.50" y1="568.90" x2="398.50" y2="571.50" stroke="#000" stroke-width="1" />
<line x1="404.70" y1="568.90" x2="404.70" y2="571.50" stroke="#000" stroke-width="1" />
<line x1="410.90" y1="568.90" x2="410.90" y2="571.50" stroke="#000" stroke-width="1" />
<line x1="417.10" y1="568.90" x2="417.10" y2="571.50" stroke="#000" stroke-width="1" />
<line x1="423.30" y1="568.90" x2="423.30" y2="571.50" stroke="#000" stroke-width="1" />
<line x1="429.50" y1="568.90" x2="429.50" y2="571.50" stroke="#000" stroke-width="1" />
<line x1="435.70" y1="568.90" x2="435.70" y2="571.50" stroke="#000" stroke-width="1" />
<line x1="441.90" y1="568.90" x2="441.90" y2="572.90" stroke="#000" stroke-width="1" />
<line x1="448.10" y1="568.90" x2="448.10" y2="571.50" stroke="#000" stroke-width="1" />
<line x1="454.30" y1="568.90" x2="454.30" y2="571.50" stroke="#000" stroke-width="1" />
<line x1="460.50" y1="568.90" x2="460.50" y2="571.50" stroke="#000" stroke-width="1" />
<line x1="466.70" y1="568.90" x2="466.70" y2="571.50" stroke="#000" stroke-width="1" />
<line x1="472.90" y1="568.90" x2="472.90" y2="571.50" stroke="#000" stroke-width="1" />
<line x1="479.10" y1="568.90" x2="479.10" y2="571.50" stroke="#000" stroke-width="1" />
<line x1="485.30" y1="568.90" x2="485.30" y2="571.50" stroke="#000" stroke-width="1" />
<line x1="491.50" y1="568.90" x2="491.50" y2="571.50" stroke="#000" stroke-width="1" />
<line x1="497.70" y1="568.90" x2="497.70" y2="571.50" stroke="#000" stroke-width="1" />
<line x1="503.90" y1="568.90" x2="503.90" y2="572.90" stroke="#000" stroke-width="1" />
<line x1="510.10" y1="568.90" x2="510.10" y2="571.50" stroke="#000" stroke-width="1" />
<line x1="516.30" y1="568.90" x2="516.30" y2="571.50" stroke="#000" stroke-width="1" />
<line x1="522.50" y1="568.90" x2="522.50" y2="571.50" stroke="#000" stroke-width="1" />
<line x1="528.70" y1="568.90" x2="528.70" y2="571.50" stroke="#000" stroke-width="1" />
<line x1="534.90" y1="568.90" x2="534.90" y2="571.50" stroke="#000" stroke-width="1" />
<line x1="541.10" y1="568.90" x2="541.10" y2="571.50" stroke="#000" stroke-width="1" />
<line x1="547.30" y1="568.90" x2="547.30" y2="571.50" stroke="#000" stroke-width="1" />
<line x1="553.50" y1="568.90" x2="553.50" y2="571.50" stroke="#000" stroke-width="1" />
<line x1="559.70" y1="568.90" x2="559.70" y2="571.50" stroke="#000" stroke-width="1" />
<line x1="565.90" y1="568.90" x2="565.90" y2="572.90" stroke="#000" stroke-width="1" />
<line x1="572.10" y1="568.90" x2="572.10" y2="571.50" stroke="#000" stroke-width="1" />
<line x1="578.30" y1="568.90" x2="578.30" y2="571.50" stroke="#000" stroke-width="1" />
<line x1="584.50" y1="568.90" x2="584.50" y2="571.50" stroke="#000" stroke-width="1" />
<line x1="590.70" y1="568.90" x2="590.70" y2="571.50" stroke="#000" stroke-width="1" />
<line x1="596.90" y1="568.90" x2="596.90" y2="571.50" stroke="#000" stroke-width="1" />
<line x1="603.10" y1="568.90" x2="603.10" y2="571.50" stroke="#000" stroke-width="1" />
<line x1="609.30" y1="568.90" x2="609.30" y2="571.50" stroke="#000" stroke-width="1" />
<line x1="615.50" y1="568.90" x2="615.50" y2="571.50" stroke="#000" stroke-width="1" />
<line x1="621.70" y1="568.90" x2="621.70" y2="571.50" stroke="#000" stroke-width="1" />
<line x1="627.90" y1="568.90" x2="627.90" y2="572.90" stroke="#000" stroke-width="1" />
</g>
<text x="375.30" y="572.20" font-size="9.2" text-anchor="end" fill="#111" stroke="#111" stroke-width="0" font-weight="bold" >0.8</text>
<text x="375.30" y="547.47" font-size="9.2" text-anchor="end" fill="#111" stroke="#111" stroke-width="0" font-weight="bold" >1.0</text>
<text x="375.30" y="522.75" font-size="9.2" text-anchor="end" fill="#111" stroke="#111" stroke-width="0" font-weight="bold" >1.2</text>
<text x="375.30" y="498.03" font-size="9.2" text-anchor="end" fill="#111" stroke="#111" stroke-width="0" font-weight="bold" >1.4</text>
<text x="375.30" y="473.30" font-size="9.2" text-anchor="end" fill="#111" stroke="#111" stroke-width="0" font-weight="bold" >1.6</text>
<text x="379.90" y="581.90" font-size="9.2" text-anchor="middle" fill="#111" stroke="#111" stroke-width="0" font-weight="bold" >0</text>
<text x="441.90" y="581.90" font-size="9.2" text-anchor="middle" fill="#111" stroke="#111" stroke-width="0" font-weight="bold" >20</text>
<text x="503.90" y="581.90" font-size="9.2" text-anchor="middle" fill="#111" stroke="#111" stroke-width="0" font-weight="bold" >40</text>
<text x="565.90" y="581.90" font-size="9.2" text-anchor="middle" fill="#111" stroke="#111" stroke-width="0" font-weight="bold" >60</text>
<text x="627.90" y="581.90" font-size="9.2" text-anchor="middle" fill="#111" stroke="#111" stroke-width="0" font-weight="bold" >80</text>
<polyline points="383.5,542.0 386.3,544.8 389.9,548.4 392.7,550.3 395.4,547.5 398.6,539.3 401.5,542.0 404.6,550.3 407.9,551.2 411.0,547.5 414.0,547.5 417.1,547.5 420.2,550.3 423.5,552.1 426.6,550.3 429.8,543.9 432.7,538.0 436.0,543.9 439.1,543.9 442.2,546.6 445.0,552.1 448.3,551.2 451.4,554.0 454.7,541.1 457.8,552.1 460.6,546.6 463.3,546.6 466.1,548.4 467.6,554.0 469.8,540.2 472.5,550.3 476.2,544.8 478.9,543.9 482.6,545.7 485.4,547.5 488.1,550.3 491.4,554.0 495.1,553.0 498.2,554.0 501.0,551.2 503.8,553.8 507.5,551.0 511.3,554.8 514.1,553.8 516.9,550.1 519.7,554.8 523.5,553.8 527.2,548.2 531.0,548.2 534.8,551.0 538.5,554.8 541.7,551.9 545.1,543.5 548.8,549.1 552.6,548.2 556.4,545.4 560.1,557.6 563.9,547.2 567.6,547.2 571.4,542.5 575.1,543.5 578.5,547.2 582.7,544.4 586.4,546.3 590.2,542.5 593.9,545.4 597.3,543.5 600.5,532.2 603.3,541.6 607.1,542.2 610.8,541.6 613.7,542.5 616.5,533.2 620.2,543.5 624.0,540.7 628.7,540.7" fill="none" stroke="#b41a1a" stroke-width="1.8" stroke-linejoin="round" />
<polyline points="383.5,548.4 386.3,550.3 389.9,549.4 392.7,553.0 395.4,551.2 398.6,542.0 401.5,547.5 404.6,549.4 407.9,549.4 411.0,543.9 414.0,544.8 417.1,547.2 420.2,547.5 423.5,545.7 426.6,542.4 429.8,543.9 432.7,548.4 436.0,548.4 439.1,544.8 442.2,554.9 445.0,551.2 448.3,552.1 451.4,542.0 454.7,542.0 457.8,554.0 460.6,546.6 463.3,541.7 466.1,540.2 469.8,543.9 473.1,537.4 476.2,538.4 478.9,543.9 482.6,540.6 485.4,540.2 488.1,535.6 491.4,534.7 495.1,538.4 498.2,543.9 501.0,544.8 503.8,545.4 507.5,544.4 510.3,553.8 513.2,557.6 516.9,554.8 520.7,551.9 524.4,549.1 529.1,536.9 531.9,545.4 535.7,551.0 538.5,549.1 541.7,550.1 545.1,546.3 547.9,542.5 550.7,545.4 553.5,542.5 556.4,543.5 560.1,547.2 562.9,552.9 566.7,551.0 570.4,554.8 574.2,552.9 578.5,548.2 581.7,551.0 584.5,545.4 587.9,555.7 591.1,551.9 593.9,550.1 597.3,551.9 600.5,542.5 604.3,541.6 608.0,542.9 612.7,544.8 616.5,546.3 620.2,544.4 624.0,546.3 628.7,545.4" fill="none" stroke="#111" stroke-width="1.8" stroke-linejoin="round" />
<polyline points="383.5,547.5 386.3,550.3 389.9,536.9 392.7,538.4 396.4,540.2 399.1,545.7 401.9,547.5 405.2,549.4 408.3,552.1 411.0,550.3 414.7,550.3 417.5,551.2 420.6,555.2 423.5,552.1 426.6,553.0 429.8,554.0 433.1,554.0 436.0,553.0 439.1,547.5 442.2,549.4 445.0,549.4 448.3,549.4 451.4,549.0 454.7,549.0 457.8,545.7 460.6,551.2 463.3,549.4 466.1,547.5 469.8,548.4 473.1,554.0 476.2,547.5 478.9,547.5 482.6,549.4 485.4,549.4 488.1,545.7 491.4,542.0 495.1,538.4 498.2,549.4 501.0,547.5 503.8,548.2 507.5,552.9 511.3,546.3 516.9,540.7 519.7,544.4 522.5,543.5 526.3,543.5 530.1,545.4 534.8,545.4 538.5,546.3 541.7,545.4 545.1,554.8 547.9,544.4 550.7,545.4 553.5,546.3 556.4,546.3 560.1,549.1 563.9,547.2 567.6,546.3 571.4,541.6 575.1,549.1 578.5,550.1 582.7,544.4 587.9,536.0 591.1,545.4 593.9,547.2 597.3,544.4 600.5,544.4 604.3,548.2 608.0,546.3 612.7,547.2 616.5,550.1 620.2,544.4 624.0,545.4 628.7,547.2" fill="none" stroke="#1414dc" stroke-width="1.8" stroke-linejoin="round" />
<text x="510.40" y="482.20" font-size="17.2" text-anchor="middle" fill="#3c6cf0" stroke="#3c6cf0" stroke-width="0.22" font-weight="normal" >inactive cells</text>
<line x1="637.50" y1="492.00" x2="654.30" y2="492.00" stroke="#1414dc" stroke-width="2.2" />
<text x="662.30" y="496.00" font-size="11.5" text-anchor="start" fill="#111" stroke="#111" stroke-width="0.22" font-weight="normal" >cell7</text>
<line x1="637.50" y1="512.30" x2="654.30" y2="512.30" stroke="#b41a1a" stroke-width="2.2" />
<text x="662.30" y="516.30" font-size="11.5" text-anchor="start" fill="#111" stroke="#111" stroke-width="0.22" font-weight="normal" >cell8</text>
<line x1="637.50" y1="532.50" x2="654.30" y2="532.50" stroke="#111" stroke-width="2.2" />
<text x="662.30" y="536.50" font-size="11.5" text-anchor="start" fill="#111" stroke="#111" stroke-width="0.22" font-weight="normal" >cell11</text>
<text x="512.80" y="600.00" font-size="15.7" text-anchor="middle" fill="#000" stroke="#000" stroke-width="0.22" font-weight="normal" >time frame (interval: 3 min)</text>
<text transform="translate(350.50,449.70) rotate(-90)" font-size="15.7" text-anchor="middle" fill="#000" stroke="#000" stroke-width="0.22">ERK activity</text>
<rect x="101.95" y="858.25" width="39.10" height="122.95" fill="#5e5e5e" stroke="#000" stroke-width="2.5"/>
<rect x="164.05" y="891.25" width="39.60" height="89.95" fill="#5e5e5e" stroke="#000" stroke-width="2.5"/>
<rect x="226.45" y="918.55" width="39.10" height="62.65" fill="#5e5e5e" stroke="#000" stroke-width="2.5"/>
<g stroke="#000" stroke-width="2.1">
<line x1="80.10" y1="834.10" x2="80.10" y2="982.40" stroke="#000" stroke-width="1" />
<line x1="79.00" y1="981.40" x2="288.00" y2="981.40" stroke="#000" stroke-width="1" />
<line x1="74.30" y1="981.50" x2="80.10" y2="981.50" stroke="#000" stroke-width="1" />
<line x1="74.30" y1="952.21" x2="80.10" y2="952.21" stroke="#000" stroke-width="1" />
<line x1="74.30" y1="922.92" x2="80.10" y2="922.92" stroke="#000" stroke-width="1" />
<line x1="74.30" y1="893.63" x2="80.10" y2="893.63" stroke="#000" stroke-width="1" />
<line x1="74.30" y1="864.34" x2="80.10" y2="864.34" stroke="#000" stroke-width="1" />
<line x1="74.30" y1="835.05" x2="80.10" y2="835.05" stroke="#000" stroke-width="1" />
<line x1="121.40" y1="981.20" x2="121.40" y2="986.00" stroke="#000" stroke-width="1" />
<line x1="184.20" y1="981.20" x2="184.20" y2="986.00" stroke="#000" stroke-width="1" />
<line x1="246.20" y1="981.20" x2="246.20" y2="986.00" stroke="#000" stroke-width="1" />
</g>
<text x="60.00" y="987.70" font-size="14.9" text-anchor="middle" fill="#000" stroke="#000" stroke-width="0.22" font-weight="normal" >0</text>
<text x="60.00" y="958.41" font-size="14.9" text-anchor="middle" fill="#000" stroke="#000" stroke-width="0.22" font-weight="normal" >20</text>
<text x="60.00" y="929.12" font-size="14.9" text-anchor="middle" fill="#000" stroke="#000" stroke-width="0.22" font-weight="normal" >40</text>
<text x="60.00" y="899.83" font-size="14.9" text-anchor="middle" fill="#000" stroke="#000" stroke-width="0.22" font-weight="normal" >60</text>
<text x="60.00" y="870.54" font-size="14.9" text-anchor="middle" fill="#000" stroke="#000" stroke-width="0.22" font-weight="normal" >80</text>
<text x="60.50" y="841.25" font-size="14.9" text-anchor="middle" fill="#000" stroke="#000" stroke-width="0.22" font-weight="normal" >100</text>
<text x="122.10" y="1005.00" font-size="15.45" text-anchor="middle" fill="#000" stroke="#000" stroke-width="0.22" font-weight="normal" >colony 1</text>
<text x="185.50" y="1005.00" font-size="15.45" text-anchor="middle" fill="#000" stroke="#000" stroke-width="0.22" font-weight="normal" >colony 2</text>
<text x="248.80" y="1005.00" font-size="15.45" text-anchor="middle" fill="#000" stroke="#000" stroke-width="0.22" font-weight="normal" >colony 3</text>
<text x="47.00" y="821.50" font-size="15.7" text-anchor="start" fill="#000" stroke="#000" stroke-width="0.22" font-weight="normal" >(%)</text>
<text transform="translate(39.30,905.90) rotate(-90)" font-size="15.7" text-anchor="middle" fill="#000" stroke="#000" stroke-width="0.22">% of active cells</text>
<polyline points="375.5,929.1 377.8,933.9 380.2,930.9 382.6,921.9 384.9,923.9 387.3,924.9 389.6,934.7 392.0,933.9 394.3,927.4 396.7,916.3 399.1,913.6 401.4,884.4 403.8,903.8 406.1,916.9 408.5,924.8 410.9,921.2 413.2,936.4 415.6,932.6 417.9,929.3 420.3,926.3 422.6,922.3 425.0,923.7 427.4,931.4 429.7,919.3 432.1,903.5 434.4,871.1 436.8,902.4 439.1,913.4 441.5,935.1 443.9,929.0 446.2,922.1 448.6,923.8 450.9,920.8 453.3,928.3 455.7,930.1 458.0,939.3 460.4,928.8 462.7,927.0 465.1,922.3 467.4,924.1 469.8,930.6 472.2,936.2 474.5,948.6 476.9,945.8 479.2,953.6 481.6,952.8 483.9,950.2 486.3,951.5 488.7,944.3 491.0,959.4 493.4,953.3 495.7,962.7 498.1,957.5 500.5,953.3 502.8,958.8 505.2,951.6 507.5,950.1 509.9,954.7 512.2,950.3 514.6,950.5 517.0,951.4 519.3,950.3 521.7,958.6 524.0,941.5 526.4,937.2 528.8,936.7 531.1,939.7 533.5,950.3 535.8,944.6 538.2,945.9 540.5,948.8 542.9,950.8 545.3,950.0 547.6,947.1 550.0,942.5 552.3,955.2 554.7,943.6 557.0,950.5 559.4,950.4 561.8,949.5 564.1,956.2 566.5,949.5 568.8,948.3 571.2,949.0 573.6,946.1 575.9,947.0 578.3,945.3 580.6,947.8 583.0,951.5 585.3,945.1 587.7,944.6 590.1,947.9 592.4,947.8 594.8,939.2 597.1,942.1 599.5,943.8 601.8,934.2 604.2,940.9 606.6,944.1 608.9,940.2 611.3,953.8" fill="none" stroke="#b412c4" stroke-width="1.4" stroke-linejoin="round" />
<polyline points="375.5,918.7 377.8,926.5 380.2,933.4 382.6,933.1 384.9,929.1 387.3,927.0 389.6,929.3 392.0,931.0 394.3,931.4 396.7,929.6 399.1,923.3 401.4,924.1 403.8,920.9 406.1,924.8 408.5,917.2 410.9,905.3 413.2,880.0 415.6,903.7 417.9,920.1 420.3,931.9 422.6,936.2 425.0,924.5 427.4,916.9 429.7,928.3 432.1,924.5 434.4,933.8 436.8,929.0 439.1,927.7 441.5,930.7 443.9,926.3 446.2,931.6 448.6,928.9 450.9,918.8 453.3,918.7 455.7,931.6 458.0,933.4 460.4,920.3 462.7,917.0 465.1,917.3 467.4,891.3 469.8,922.2 472.2,935.5 474.5,941.3 476.9,943.3 479.2,954.3 481.6,955.0 483.9,950.7 486.3,946.1 488.7,951.0 491.0,949.3 493.4,954.5 495.7,951.1 498.1,952.8 500.5,943.3 502.8,943.2 505.2,943.7 507.5,943.0 509.9,945.9 512.2,948.4 514.6,942.5 517.0,949.1 519.3,954.2 521.7,951.8 524.0,947.5 526.4,946.7 528.8,947.9 531.1,953.1 533.5,954.1 535.8,955.4 538.2,949.5 540.5,944.6 542.9,944.1 545.3,945.9 547.6,952.4 550.0,948.5 552.3,944.8 554.7,946.0 557.0,946.3 559.4,947.6 561.8,952.3 564.1,945.6 566.5,944.6 568.8,946.2 571.2,945.4 573.6,947.8 575.9,956.5 578.3,941.0 580.6,942.5 583.0,945.5 585.3,943.7 587.7,944.2 590.1,944.0 592.4,945.5 594.8,942.7 597.1,951.8 599.5,941.9 601.8,953.2 604.2,952.4 606.6,952.7 608.9,952.9 611.3,948.2" fill="none" stroke="#b412c4" stroke-width="1.4" stroke-linejoin="round" />
<polyline points="375.5,926.4 377.8,927.6 380.2,925.9 382.6,930.2 384.9,931.9 387.3,934.5 389.6,938.3 392.0,933.0 394.3,931.6 396.7,935.7 399.1,935.8 401.4,932.3 403.8,941.5 406.1,939.7 408.5,939.2 410.9,929.5 413.2,923.6 415.6,910.6 417.9,882.7 420.3,911.5 422.6,931.6 425.0,945.0 427.4,938.1 429.7,927.1 432.1,933.9 434.4,926.7 436.8,928.2 439.1,925.5 441.5,929.1 443.9,934.0 446.2,934.4 448.6,929.9 450.9,927.4 453.3,919.7 455.7,914.7 458.0,900.0 460.4,920.0 462.7,925.4 465.1,931.0 467.4,920.4 469.8,935.2 472.2,937.8 474.5,944.1 476.9,946.9 479.2,950.8 481.6,953.7 483.9,959.6 486.3,953.7 488.7,959.9 491.0,961.1 493.4,950.8 495.7,959.4 498.1,959.3 500.5,963.7 502.8,962.3 505.2,958.1 507.5,947.0 509.9,957.0 512.2,961.9 514.6,950.3 517.0,959.8 519.3,952.3 521.7,947.1 524.0,950.7 526.4,948.0 528.8,953.4 531.1,948.5 533.5,956.9 535.8,952.4 538.2,952.6 540.5,958.8 542.9,943.9 545.3,953.5 547.6,958.1 550.0,951.5 552.3,955.5 554.7,950.2 557.0,947.7 559.4,948.5 561.8,952.5 564.1,956.0 566.5,952.9 568.8,953.4 571.2,950.6 573.6,948.3 575.9,952.5 578.3,951.1 580.6,954.0 583.0,953.0 585.3,951.2 587.7,955.8 590.1,955.3 592.4,955.0 594.8,950.7 597.1,951.5 599.5,951.8 601.8,946.0 604.2,951.2 606.6,954.3 608.9,954.5 611.3,950.3" fill="none" stroke="#b412c4" stroke-width="1.4" stroke-linejoin="round" />
<polyline points="375.5,934.1 377.8,935.2 380.2,940.6 382.6,937.3 384.9,928.8 387.3,928.3 389.6,937.1 392.0,942.1 394.3,937.4 396.7,934.3 399.1,935.3 401.4,938.2 403.8,941.4 406.1,937.1 408.5,938.2 410.9,931.0 413.2,941.6 415.6,938.7 417.9,923.0 420.3,924.6 422.6,929.2 425.0,929.9 427.4,931.2 429.7,938.7 432.1,941.9 434.4,940.5 436.8,935.6 439.1,940.2 441.5,926.0 443.9,912.3 446.2,879.2 448.6,911.9 450.9,923.4 453.3,929.9 455.7,928.7 458.0,934.6 460.4,925.2 462.7,923.2 465.1,933.4 467.4,936.9 469.8,929.8 472.2,938.2 474.5,947.7 476.9,949.7 479.2,955.8 481.6,947.9 483.9,953.4 486.3,952.6 488.7,960.4 491.0,952.4 493.4,957.7 495.7,951.7 498.1,950.9 500.5,952.9 502.8,968.2 505.2,956.7 507.5,948.0 509.9,950.5 512.2,956.5 514.6,953.0 517.0,943.7 519.3,946.3 521.7,947.4 524.0,955.9 526.4,956.8 528.8,947.7 531.1,952.6 533.5,955.0 535.8,950.9 538.2,950.8 540.5,952.9 542.9,946.9 545.3,949.6 547.6,949.4 550.0,954.5 552.3,954.4 554.7,951.6 557.0,953.5 559.4,939.3 561.8,945.8 564.1,951.0 566.5,945.0 568.8,950.5 571.2,947.1 573.6,945.5 575.9,945.5 578.3,949.5 580.6,948.9 583.0,962.0 585.3,945.8 587.7,953.1 590.1,948.3 592.4,950.4 594.8,954.3 597.1,963.6 599.5,954.5 601.8,950.9 604.2,951.0 606.6,944.1 608.9,954.7 611.3,946.1" fill="none" stroke="#b412c4" stroke-width="1.4" stroke-linejoin="round" />
<polyline points="375.5,940.7 377.8,940.4 380.2,947.2 382.6,952.6 384.9,950.4 387.3,943.1 389.6,943.0 392.0,947.3 394.3,942.5 396.7,942.3 399.1,942.6 401.4,945.5 403.8,947.7 406.1,938.3 408.5,934.0 410.9,932.4 413.2,935.5 415.6,946.2 417.9,940.1 420.3,942.0 422.6,948.4 425.0,947.9 427.4,948.8 429.7,944.9 432.1,937.4 434.4,936.3 436.8,934.8 439.1,938.3 441.5,936.8 443.9,939.1 446.2,937.9 448.6,938.0 450.9,935.9 453.3,935.1 455.7,945.9 458.0,943.6 460.4,939.4 462.7,946.2 465.1,946.3 467.4,945.4 469.8,941.7 472.2,948.3 474.5,951.1 476.9,948.4 479.2,949.7 481.6,951.3 483.9,955.0 486.3,956.0 488.7,955.0 491.0,952.3 493.4,947.6 495.7,944.1 498.1,948.5 500.5,954.4 502.8,948.1 505.2,953.2 507.5,952.1 509.9,954.0 512.2,948.0 514.6,951.5 517.0,950.4 519.3,949.8 521.7,950.5 524.0,950.7 526.4,949.6 528.8,957.4 531.1,953.1 533.5,948.0 535.8,947.3 538.2,951.0 540.5,944.5 542.9,952.8 545.3,954.6 547.6,949.0 550.0,952.7 552.3,948.6 554.7,951.1 557.0,955.8 559.4,949.4 561.8,949.5 564.1,951.2 566.5,945.3 568.8,944.8 571.2,959.8 573.6,951.5 575.9,951.2 578.3,949.3 580.6,951.6 583.0,950.9 585.3,948.6 587.7,944.3 590.1,946.4 592.4,945.3 594.8,949.5 597.1,942.5 599.5,945.2 601.8,947.4 604.2,946.0 606.6,944.8 608.9,938.9 611.3,941.1" fill="none" stroke="#b412c4" stroke-width="1.4" stroke-linejoin="round" />
<polyline points="375.5,931.8 377.8,931.0 380.2,933.6 382.6,937.0 384.9,924.3 387.3,932.7 389.6,939.5 392.0,940.8 394.3,936.3 396.7,928.4 399.1,931.6 401.4,933.6 403.8,935.1 406.1,928.1 408.5,924.7 410.9,937.4 413.2,922.4 415.6,912.4 417.9,920.3 420.3,920.3 422.6,927.5 425.0,931.2 427.4,932.3 429.7,928.2 432.1,927.8 434.4,928.4 436.8,932.1 439.1,933.8 441.5,930.0 443.9,923.1 446.2,926.2 448.6,941.2 450.9,928.5 453.3,942.8 455.7,933.8 458.0,938.4 460.4,924.9 462.7,928.3 465.1,928.2 467.4,920.7 469.8,911.9 472.2,936.7 474.5,938.3 476.9,926.8 479.2,936.0 481.6,935.9 483.9,937.3 486.3,937.7 488.7,943.1 491.0,942.3 493.4,935.9 495.7,947.2 498.1,938.9 500.5,939.7 502.8,935.9 505.2,942.1 507.5,940.5 509.9,936.7 512.2,938.3 514.6,942.5 517.0,935.7 519.3,935.1 521.7,939.4 524.0,935.5 526.4,942.8 528.8,933.2 531.1,943.9 533.5,947.0 535.8,939.1 538.2,930.4 540.5,926.8 542.9,930.9 545.3,926.8 547.6,925.6 550.0,920.2 552.3,936.7 554.7,930.3 557.0,941.4 559.4,936.5 561.8,931.3 564.1,923.9 566.5,936.6 568.8,929.2 571.2,924.5 573.6,933.7 575.9,932.8 578.3,939.1 580.6,946.5 583.0,934.4 585.3,934.3 587.7,932.4 590.1,934.3 592.4,926.6 594.8,927.5 597.1,929.9 599.5,933.8 601.8,933.2 604.2,928.9 606.6,931.1 608.9,931.5 611.3,928.3" fill="none" stroke="#111" stroke-width="1.2" stroke-linejoin="round" />
<polyline points="375.5,921.6 377.8,926.5 380.2,926.7 382.6,926.4 384.9,930.0 387.3,927.3 389.6,928.8 392.0,915.9 394.3,928.8 396.7,921.3 399.1,931.4 401.4,936.8 403.8,937.3 406.1,930.0 408.5,931.3 410.9,932.4 413.2,927.7 415.6,928.0 417.9,922.8 420.3,926.3 422.6,923.3 425.0,924.2 427.4,931.4 429.7,931.7 432.1,933.0 434.4,936.3 436.8,934.1 439.1,924.5 441.5,921.0 443.9,925.3 446.2,921.7 448.6,915.1 450.9,931.4 453.3,932.2 455.7,929.6 458.0,927.1 460.4,925.8 462.7,923.9 465.1,922.4 467.4,916.9 469.8,927.3 472.2,926.3 474.5,937.8 476.9,936.0 479.2,937.7 481.6,933.1 483.9,935.5 486.3,946.0 488.7,941.7 491.0,931.9 493.4,930.0 495.7,935.8 498.1,942.5 500.5,939.7 502.8,937.9 505.2,939.7 507.5,943.3 509.9,933.4 512.2,928.6 514.6,933.5 517.0,934.0 519.3,937.4 521.7,937.2 524.0,939.3 526.4,936.4 528.8,940.1 531.1,942.1 533.5,935.9 535.8,941.7 538.2,945.1 540.5,937.5 542.9,933.4 545.3,948.0 547.6,939.3 550.0,945.3 552.3,937.9 554.7,933.8 557.0,943.1 559.4,934.7 561.8,939.7 564.1,937.0 566.5,938.2 568.8,935.4 571.2,933.1 573.6,932.0 575.9,936.4 578.3,939.8 580.6,934.9 583.0,934.7 585.3,931.1 587.7,938.7 590.1,932.5 592.4,941.1 594.8,936.9 597.1,929.1 599.5,936.3 601.8,936.8 604.2,934.6 606.6,936.1 608.9,929.8 611.3,931.8" fill="none" stroke="#111" stroke-width="1.2" stroke-linejoin="round" />
<polyline points="375.5,930.8 377.8,927.5 380.2,916.3 382.6,921.2 384.9,919.5 387.3,928.6 389.6,921.4 392.0,916.5 394.3,923.2 396.7,927.9 399.1,922.6 401.4,937.0 403.8,937.9 406.1,937.2 408.5,933.4 410.9,926.8 413.2,925.9 415.6,922.7 417.9,916.6 420.3,914.6 422.6,922.8 425.0,931.2 427.4,920.8 429.7,937.9 432.1,928.5 434.4,930.7 436.8,926.7 439.1,932.6 441.5,923.8 443.9,922.0 446.2,919.9 448.6,925.3 450.9,927.7 453.3,923.0 455.7,927.2 458.0,938.9 460.4,937.4 462.7,940.1 465.1,914.5 467.4,932.8 469.8,941.1 472.2,934.3 474.5,942.0 476.9,939.2 479.2,933.5 481.6,937.6 483.9,941.3 486.3,938.7 488.7,945.2 491.0,941.0 493.4,937.8 495.7,939.2 498.1,945.4 500.5,937.4 502.8,937.8 505.2,934.5 507.5,936.5 509.9,935.2 512.2,932.9 514.6,936.3 517.0,937.5 519.3,944.3 521.7,951.8 524.0,942.7 526.4,942.2 528.8,928.9 531.1,937.6 533.5,932.4 535.8,937.7 538.2,944.9 540.5,940.6 542.9,924.8 545.3,933.7 547.6,936.4 550.0,935.5 552.3,943.9 554.7,943.7 557.0,927.9 559.4,928.6 561.8,926.4 564.1,928.7 566.5,930.3 568.8,948.4 571.2,940.5 573.6,930.4 575.9,926.9 578.3,927.1 580.6,919.9 583.0,933.2 585.3,931.2 587.7,933.1 590.1,921.0 592.4,930.6 594.8,933.5 597.1,943.1 599.5,943.4 601.8,933.0 604.2,928.2 606.6,935.1 608.9,937.1 611.3,931.3" fill="none" stroke="#111" stroke-width="1.2" stroke-linejoin="round" />
<polyline points="375.5,931.7 377.8,931.4 380.2,926.8 382.6,924.8 384.9,925.0 387.3,925.1 389.6,935.7 392.0,926.2 394.3,934.3 396.7,925.0 399.1,934.2 401.4,930.0 403.8,926.0 406.1,929.0 408.5,931.2 410.9,933.0 413.2,932.7 415.6,922.5 417.9,925.2 420.3,927.5 422.6,931.8 425.0,917.8 427.4,922.7 429.7,921.0 432.1,925.8 434.4,924.6 436.8,930.5 439.1,939.8 441.5,937.1 443.9,937.9 446.2,933.9 448.6,919.4 450.9,927.8 453.3,924.8 455.7,930.1 458.0,931.0 460.4,926.4 462.7,932.6 465.1,924.1 467.4,932.7 469.8,926.3 472.2,932.1 474.5,935.9 476.9,932.2 479.2,940.9 481.6,935.5 483.9,941.0 486.3,934.1 488.7,936.9 491.0,952.7 493.4,946.3 495.7,947.1 498.1,943.7 500.5,930.2 502.8,940.0 505.2,943.3 507.5,944.3 509.9,946.2 512.2,942.6 514.6,943.6 517.0,939.3 519.3,944.2 521.7,928.0 524.0,938.3 526.4,940.2 528.8,929.8 531.1,948.2 533.5,934.3 535.8,945.3 538.2,937.5 540.5,937.2 542.9,939.2 545.3,952.4 547.6,943.5 550.0,928.1 552.3,938.5 554.7,945.5 557.0,946.0 559.4,936.2 561.8,942.0 564.1,929.4 566.5,933.1 568.8,932.4 571.2,940.8 573.6,939.2 575.9,938.7 578.3,931.5 580.6,937.6 583.0,934.4 585.3,931.4 587.7,934.8 590.1,930.1 592.4,941.8 594.8,934.1 597.1,933.8 599.5,936.9 601.8,943.9 604.2,941.7 606.6,939.3 608.9,931.6 611.3,927.6" fill="none" stroke="#111" stroke-width="1.2" stroke-linejoin="round" />
<polyline points="375.5,929.4 377.8,932.3 380.2,933.5 382.6,925.3 384.9,933.1 387.3,929.8 389.6,925.6 392.0,931.1 394.3,926.2 396.7,925.7 399.1,939.7 401.4,941.7 403.8,940.5 406.1,936.3 408.5,934.5 410.9,930.3 413.2,932.6 415.6,932.2 417.9,939.0 420.3,931.9 422.6,935.5 425.0,933.5 427.4,944.6 429.7,936.8 432.1,929.4 434.4,928.2 436.8,936.3 439.1,939.6 441.5,930.5 443.9,932.0 446.2,933.2 448.6,926.7 450.9,931.4 453.3,924.9 455.7,930.2 458.0,936.7 460.4,931.6 462.7,934.5 465.1,934.1 467.4,935.9 469.8,937.5 472.2,938.4 474.5,943.8 476.9,950.7 479.2,931.4 481.6,937.2 483.9,949.2 486.3,947.6 488.7,942.7 491.0,948.5 493.4,948.6 495.7,945.0 498.1,944.3 500.5,944.8 502.8,944.3 505.2,949.0 507.5,944.9 509.9,944.8 512.2,941.8 514.6,942.9 517.0,939.6 519.3,941.6 521.7,932.4 524.0,939.8 526.4,930.3 528.8,950.4 531.1,931.4 533.5,933.0 535.8,933.7 538.2,932.5 540.5,932.0 542.9,935.1 545.3,934.1 547.6,935.2 550.0,941.4 552.3,942.5 554.7,938.8 557.0,940.8 559.4,946.4 561.8,946.4 564.1,934.8 566.5,945.6 568.8,948.5 571.2,934.4 573.6,940.5 575.9,940.6 578.3,940.8 580.6,935.5 583.0,936.9 585.3,946.9 587.7,943.8 590.1,941.1 592.4,943.0 594.8,940.5 597.1,925.7 599.5,919.5 601.8,928.3 604.2,932.9 606.6,938.3 608.9,932.9 611.3,941.7" fill="none" stroke="#111" stroke-width="1.2" stroke-linejoin="round" />
<polyline points="375.5,917.8 377.8,914.4 380.2,933.4 382.6,927.4 384.9,922.1 387.3,922.8 389.6,924.3 392.0,925.3 394.3,928.4 396.7,935.7 399.1,931.9 401.4,929.4 403.8,924.7 406.1,935.1 408.5,925.1 410.9,927.0 413.2,931.9 415.6,932.2 417.9,932.4 420.3,928.0 422.6,927.8 425.0,932.6 427.4,925.1 429.7,930.8 432.1,927.2 434.4,928.8 436.8,927.0 439.1,918.7 441.5,924.8 443.9,924.7 446.2,934.5 448.6,923.7 450.9,929.5 453.3,937.1 455.7,937.5 458.0,931.3 460.4,930.9 462.7,923.6 465.1,928.3 467.4,921.1 469.8,918.9 472.2,932.9 474.5,932.1 476.9,940.1 479.2,947.8 481.6,944.5 483.9,939.5 486.3,944.0 488.7,945.4 491.0,942.8 493.4,929.6 495.7,937.0 498.1,941.4 500.5,936.7 502.8,937.2 505.2,940.9 507.5,939.4 509.9,937.8 512.2,942.2 514.6,943.1 517.0,933.1 519.3,917.0 521.7,929.7 524.0,941.3 526.4,941.3 528.8,941.6 531.1,941.8 533.5,947.8 535.8,948.0 538.2,936.6 540.5,938.1 542.9,935.3 545.3,936.4 547.6,933.1 550.0,939.0 552.3,940.8 554.7,937.1 557.0,943.4 559.4,940.7 561.8,938.7 564.1,941.5 566.5,938.9 568.8,947.7 571.2,948.0 573.6,941.0 575.9,946.5 578.3,940.5 580.6,939.6 583.0,929.0 585.3,929.0 587.7,931.4 590.1,932.2 592.4,918.0 594.8,918.7 597.1,929.7 599.5,937.6 601.8,936.7 604.2,931.5 606.6,938.8 608.9,935.1 611.3,930.4" fill="none" stroke="#111" stroke-width="1.2" stroke-linejoin="round" />
<polyline points="375.5,930.2 377.8,940.7 380.2,928.5 382.6,928.4 384.9,930.4 387.3,928.8 389.6,933.8 392.0,941.5 394.3,935.9 396.7,940.3 399.1,929.7 401.4,930.5 403.8,935.5 406.1,931.9 408.5,916.0 410.9,928.2 413.2,933.7 415.6,926.3 417.9,926.9 420.3,936.7 422.6,940.3 425.0,924.8 427.4,922.9 429.7,926.4 432.1,922.7 434.4,922.3 436.8,928.9 439.1,934.7 441.5,926.0 443.9,927.1 446.2,928.5 448.6,930.1 450.9,935.5 453.3,936.7 455.7,933.8 458.0,932.6 460.4,933.2 462.7,927.7 465.1,928.2 467.4,937.9 469.8,934.1 472.2,937.3 474.5,942.5 476.9,946.5 479.2,937.3 481.6,939.4 483.9,949.2 486.3,941.6 488.7,950.5 491.0,941.7 493.4,934.4 495.7,939.5 498.1,941.0 500.5,942.9 502.8,955.4 505.2,948.6 507.5,954.9 509.9,948.8 512.2,940.0 514.6,940.1 517.0,947.4 519.3,941.2 521.7,939.4 524.0,938.2 526.4,938.3 528.8,941.3 531.1,937.0 533.5,930.7 535.8,929.2 538.2,934.1 540.5,936.7 542.9,934.5 545.3,943.6 547.6,950.8 550.0,943.3 552.3,937.2 554.7,940.8 557.0,946.5 559.4,944.5 561.8,936.9 564.1,935.4 566.5,933.5 568.8,934.0 571.2,935.1 573.6,947.3 575.9,937.2 578.3,935.4 580.6,939.6 583.0,932.0 585.3,932.0 587.7,942.8 590.1,939.0 592.4,937.1 594.8,934.7 597.1,932.3 599.5,934.7 601.8,934.6 604.2,937.0 606.6,933.8 608.9,938.9 611.3,952.5" fill="none" stroke="#111" stroke-width="1.2" stroke-linejoin="round" />
<polyline points="375.5,925.0 377.8,922.5 380.2,914.0 382.6,922.4 384.9,933.2 387.3,927.6 389.6,918.1 392.0,925.8 394.3,931.3 396.7,932.3 399.1,931.4 401.4,922.8 403.8,932.1 406.1,924.1 408.5,926.1 410.9,927.3 413.2,923.2 415.6,932.5 417.9,940.3 420.3,934.0 422.6,932.9 425.0,926.8 427.4,925.0 429.7,921.0 432.1,930.3 434.4,930.8 436.8,932.5 439.1,922.5 441.5,920.8 443.9,935.5 446.2,924.5 448.6,925.9 450.9,922.9 453.3,928.2 455.7,928.7 458.0,926.5 460.4,929.5 462.7,934.2 465.1,929.7 467.4,938.3 469.8,928.2 472.2,929.2 474.5,940.4 476.9,944.2 479.2,945.5 481.6,938.8 483.9,948.8 486.3,939.1 488.7,946.4 491.0,943.2 493.4,942.0 495.7,940.5 498.1,945.0 500.5,945.2 502.8,945.8 505.2,941.1 507.5,950.5 509.9,952.5 512.2,950.1 514.6,946.7 517.0,940.7 519.3,935.9 521.7,942.5 524.0,948.0 526.4,951.7 528.8,946.8 531.1,951.8 533.5,939.3 535.8,936.0 538.2,940.0 540.5,940.2 542.9,945.1 545.3,939.0 547.6,939.0 550.0,941.2 552.3,932.5 554.7,933.3 557.0,938.8 559.4,931.4 561.8,927.5 564.1,934.9 566.5,936.2 568.8,945.5 571.2,937.9 573.6,939.5 575.9,945.8 578.3,932.2 580.6,939.2 583.0,941.4 585.3,951.6 587.7,939.0 590.1,940.2 592.4,928.8 594.8,930.1 597.1,939.9 599.5,937.6 601.8,934.0 604.2,937.3 606.6,938.3 608.9,934.6 611.3,940.1" fill="none" stroke="#111" stroke-width="1.2" stroke-linejoin="round" />
<polyline points="375.5,935.8 377.8,932.6 380.2,936.2 382.6,928.7 384.9,929.2 387.3,929.9 389.6,940.6 392.0,941.4 394.3,929.2 396.7,930.3 399.1,927.3 401.4,927.7 403.8,922.0 406.1,936.7 408.5,937.4 410.9,937.4 413.2,935.7 415.6,936.8 417.9,941.5 420.3,931.6 422.6,926.5 425.0,939.3 427.4,934.7 429.7,928.3 432.1,931.4 434.4,929.4 436.8,930.4 439.1,922.8 441.5,920.0 443.9,926.6 446.2,926.0 448.6,936.2 450.9,930.9 453.3,931.4 455.7,940.0 458.0,931.6 460.4,927.7 462.7,933.5 465.1,936.3 467.4,932.1 469.8,938.1 472.2,938.5 474.5,937.8 476.9,935.6 479.2,944.1 481.6,952.2 483.9,945.3 486.3,960.7 488.7,949.8 491.0,952.4 493.4,943.3 495.7,943.2 498.1,951.7 500.5,943.5 502.8,946.8 505.2,953.2 507.5,946.5 509.9,952.1 512.2,947.3 514.6,939.9 517.0,935.5 519.3,955.0 521.7,950.3 524.0,945.9 526.4,941.9 528.8,943.1 531.1,945.3 533.5,948.1 535.8,937.8 538.2,943.9 540.5,939.8 542.9,940.2 545.3,934.2 547.6,953.2 550.0,954.5 552.3,942.8 554.7,942.0 557.0,943.1 559.4,947.3 561.8,941.5 564.1,942.3 566.5,943.1 568.8,941.4 571.2,945.2 573.6,944.7 575.9,937.5 578.3,936.7 580.6,934.8 583.0,940.6 585.3,934.5 587.7,941.7 590.1,938.8 592.4,941.5 594.8,950.6 597.1,944.4 599.5,949.8 601.8,952.1 604.2,943.9 606.6,936.9 608.9,947.4 611.3,949.0" fill="none" stroke="#111" stroke-width="1.2" stroke-linejoin="round" />
<polyline points="375.5,928.0 377.8,922.2 380.2,931.0 382.6,937.2 384.9,931.2 387.3,933.5 389.6,930.8 392.0,936.6 394.3,932.8 396.7,925.8 399.1,933.6 401.4,933.2 403.8,922.1 406.1,928.6 408.5,920.9 410.9,919.0 413.2,930.4 415.6,921.2 417.9,935.8 420.3,930.8 422.6,932.5 425.0,930.7 427.4,927.4 429.7,942.1 432.1,928.7 434.4,922.2 436.8,932.6 439.1,935.2 441.5,928.5 443.9,920.5 446.2,928.1 448.6,918.5 450.9,925.6 453.3,928.5 455.7,923.2 458.0,931.5 460.4,931.9 462.7,930.5 465.1,934.1 467.4,928.4 469.8,928.0 472.2,934.9 474.5,944.3 476.9,948.9 479.2,956.7 481.6,963.0 483.9,955.0 486.3,962.3 488.7,965.4 491.0,956.0 493.4,950.7 495.7,953.6 498.1,951.1 500.5,960.4 502.8,968.6 505.2,954.0 507.5,956.6 509.9,961.6 512.2,954.4 514.6,959.1 517.0,963.3 519.3,966.3 521.7,957.7 524.0,956.7 526.4,957.8 528.8,954.5 531.1,961.7 533.5,955.4 535.8,956.5 538.2,948.4 540.5,949.9 542.9,960.0 545.3,954.9 547.6,950.6 550.0,956.4 552.3,954.9 554.7,960.4 557.0,958.5 559.4,955.9 561.8,956.3 564.1,957.6 566.5,950.5 568.8,951.5 571.2,955.9 573.6,949.8 575.9,948.5 578.3,949.2 580.6,956.8 583.0,959.1 585.3,957.8 587.7,954.8 590.1,948.1 592.4,956.8 594.8,951.7 597.1,954.0 599.5,947.2 601.8,950.7 604.2,938.9 606.6,944.8 608.9,954.2 611.3,952.3" fill="none" stroke="#111" stroke-width="1.2" stroke-linejoin="round" />
<polyline points="375.5,933.1 377.8,924.2 380.2,934.9 382.6,923.3 384.9,928.0 387.3,921.2 389.6,925.3 392.0,929.6 394.3,924.6 396.7,918.5 399.1,916.3 401.4,934.7 403.8,934.4 406.1,940.7 408.5,936.7 410.9,932.6 413.2,929.7 415.6,923.8 417.9,926.7 420.3,919.1 422.6,934.1 425.0,932.9 427.4,928.9 429.7,920.1 432.1,926.1 434.4,924.5 436.8,934.5 439.1,932.1 441.5,919.4 443.9,930.1 446.2,941.3 448.6,927.3 450.9,932.9 453.3,925.6 455.7,920.9 458.0,925.5 460.4,925.6 462.7,927.4 465.1,928.6 467.4,927.6 469.8,938.0 472.2,932.8 474.5,942.6 476.9,950.5 479.2,953.6 481.6,953.9 483.9,953.6 486.3,951.9 488.7,954.4 491.0,956.4 493.4,965.0 495.7,963.0 498.1,953.3 500.5,962.5 502.8,957.8 505.2,952.2 507.5,958.8 509.9,966.5 512.2,959.6 514.6,954.4 517.0,953.3 519.3,958.5 521.7,961.6 524.0,954.5 526.4,958.8 528.8,955.2 531.1,961.2 533.5,962.0 535.8,950.7 538.2,966.6 540.5,958.5 542.9,951.6 545.3,947.2 547.6,953.8 550.0,954.6 552.3,952.9 554.7,956.7 557.0,964.0 559.4,962.1 561.8,963.5 564.1,952.1 566.5,966.0 568.8,953.3 571.2,954.4 573.6,963.3 575.9,947.9 578.3,950.7 580.6,958.4 583.0,966.5 585.3,961.4 587.7,953.4 590.1,959.8 592.4,960.1 594.8,955.4 597.1,956.4 599.5,960.7 601.8,959.8 604.2,958.3 606.6,955.6 608.9,952.5 611.3,945.1" fill="none" stroke="#111" stroke-width="1.2" stroke-linejoin="round" />
<polyline points="375.5,922.9 377.8,918.1 380.2,927.9 382.6,924.7 384.9,917.5 387.3,920.8 389.6,928.2 392.0,931.2 394.3,931.5 396.7,922.9 399.1,924.0 401.4,934.8 403.8,920.2 406.1,919.7 408.5,929.8 410.9,922.3 413.2,929.0 415.6,925.7 417.9,929.5 420.3,931.3 422.6,937.6 425.0,934.9 427.4,926.3 429.7,921.7 432.1,934.3 434.4,926.3 436.8,929.7 439.1,926.4 441.5,926.5 443.9,924.7 446.2,923.0 448.6,933.1 450.9,930.9 453.3,932.3 455.7,928.3 458.0,921.8 460.4,922.8 462.7,926.3 465.1,926.1 467.4,916.1 469.8,921.7 472.2,932.4 474.5,936.3 476.9,949.6 479.2,960.0 481.6,966.1 483.9,970.3 486.3,954.2 488.7,957.8 491.0,960.1 493.4,966.0 495.7,971.9 498.1,966.7 500.5,958.2 502.8,961.9 505.2,967.0 507.5,956.0 509.9,957.6 512.2,966.7 514.6,969.2 517.0,965.2 519.3,967.6 521.7,959.0 524.0,959.2 526.4,958.1 528.8,953.4 531.1,955.4 533.5,964.6 535.8,953.3 538.2,949.8 540.5,963.1 542.9,964.6 545.3,962.6 547.6,955.9 550.0,950.3 552.3,952.3 554.7,957.9 557.0,963.1 559.4,965.3 561.8,963.2 564.1,956.3 566.5,955.5 568.8,963.5 571.2,958.0 573.6,963.7 575.9,949.8 578.3,964.0 580.6,961.3 583.0,952.2 585.3,950.3 587.7,952.9 590.1,952.7 592.4,950.0 594.8,961.8 597.1,946.2 599.5,950.4 601.8,959.6 604.2,953.6 606.6,959.5 608.9,963.2 611.3,959.0" fill="none" stroke="#111" stroke-width="1.2" stroke-linejoin="round" />
<polyline points="375.5,920.4 377.8,918.7 380.2,926.6 382.6,932.2 384.9,934.1 387.3,927.8 389.6,918.1 392.0,913.5 394.3,913.0 396.7,922.6 399.1,925.1 401.4,920.5 403.8,931.8 406.1,935.2 408.5,936.9 410.9,929.8 413.2,928.5 415.6,933.2 417.9,932.6 420.3,921.5 422.6,923.0 425.0,923.9 427.4,925.1 429.7,929.1 432.1,931.0 434.4,931.6 436.8,932.3 439.1,917.7 441.5,921.1 443.9,917.0 446.2,921.6 448.6,919.6 450.9,914.0 453.3,927.4 455.7,919.2 458.0,919.6 460.4,931.7 462.7,932.9 465.1,934.3 467.4,932.9 469.8,925.4 472.2,936.6 474.5,943.1 476.9,961.1 479.2,961.4 481.6,955.2 483.9,953.7 486.3,958.7 488.7,957.0 491.0,952.3 493.4,958.6 495.7,950.4 498.1,947.6 500.5,945.8 502.8,954.0 505.2,955.5 507.5,950.3 509.9,952.2 512.2,949.0 514.6,951.4 517.0,955.1 519.3,947.7 521.7,959.5 524.0,955.2 526.4,956.2 528.8,957.5 531.1,961.0 533.5,957.5 535.8,950.5 538.2,961.8 540.5,943.2 542.9,940.1 545.3,945.6 547.6,958.4 550.0,963.0 552.3,959.1 554.7,960.8 557.0,952.7 559.4,949.6 561.8,951.5 564.1,952.5 566.5,949.3 568.8,952.0 571.2,950.9 573.6,963.9 575.9,955.2 578.3,952.7 580.6,943.4 583.0,947.1 585.3,949.2 587.7,953.4 590.1,950.4 592.4,943.3 594.8,946.3 597.1,943.4 599.5,947.6 601.8,957.4 604.2,943.7 606.6,961.6 608.9,955.3 611.3,957.2" fill="none" stroke="#111" stroke-width="1.2" stroke-linejoin="round" />
<polyline points="375.5,938.6 377.8,937.2 380.2,936.1 382.6,947.8 384.9,942.6 387.3,930.6 389.6,937.7 392.0,933.0 394.3,923.8 396.7,918.9 399.1,937.4 401.4,927.3 403.8,926.4 406.1,934.1 408.5,931.0 410.9,930.9 413.2,934.9 415.6,929.2 417.9,941.7 420.3,932.5 422.6,931.1 425.0,938.2 427.4,931.5 429.7,929.2 432.1,923.5 434.4,922.3 436.8,930.2 439.1,930.5 441.5,939.2 443.9,933.3 446.2,927.6 448.6,929.9 450.9,932.1 453.3,945.6 455.7,932.5 458.0,925.6 460.4,934.0 462.7,928.4 465.1,940.5 467.4,929.5 469.8,936.0 472.2,937.9 474.5,943.8 476.9,930.9 479.2,939.6 481.6,955.2 483.9,950.0 486.3,953.5 488.7,946.4 491.0,939.6 493.4,941.4 495.7,947.1 498.1,940.8 500.5,945.4 502.8,941.3 505.2,944.7 507.5,940.7 509.9,935.5 512.2,943.7 514.6,944.8 517.0,944.9 519.3,939.7 521.7,940.9 524.0,945.4 526.4,942.4 528.8,937.9 531.1,938.4 533.5,934.2 535.8,939.1 538.2,945.7 540.5,942.4 542.9,949.9 545.3,948.1 547.6,939.7 550.0,950.7 552.3,943.8 554.7,950.9 557.0,940.7 559.4,942.1 561.8,946.5 564.1,943.7 566.5,937.9 568.8,942.8 571.2,944.7 573.6,941.5 575.9,931.0 578.3,932.8 580.6,940.6 583.0,931.7 585.3,945.6 587.7,949.3 590.1,943.4 592.4,938.6 594.8,936.0 597.1,935.7 599.5,935.6 601.8,943.6 604.2,934.0 606.6,934.2 608.9,938.0 611.3,931.4" fill="none" stroke="#111" stroke-width="1.2" stroke-linejoin="round" />
<circle cx="401.3" cy="884.4" r="4.3" fill="#ff0000" />
<circle cx="412.5" cy="880.0" r="4.3" fill="#ff0000" />
<circle cx="418.0" cy="882.7" r="4.3" fill="#ff0000" />
<circle cx="434.2" cy="871.1" r="4.3" fill="#ff0000" />
<circle cx="446.0" cy="879.2" r="4.3" fill="#ff0000" />
<circle cx="457.6" cy="900.0" r="4.3" fill="#ff0000" />
<circle cx="467.7" cy="891.3" r="4.3" fill="#ff0000" />
<g stroke="#222" stroke-width="1.3">
<line x1="375.30" y1="822.00" x2="375.30" y2="982.10" stroke="#000" stroke-width="1" />
<line x1="374.70" y1="981.50" x2="612.50" y2="981.50" stroke="#000" stroke-width="1" />
<line x1="371.30" y1="960.70" x2="375.30" y2="960.70" stroke="#000" stroke-width="1" />
<line x1="371.30" y1="927.70" x2="375.30" y2="927.70" stroke="#000" stroke-width="1" />
<line x1="371.30" y1="894.70" x2="375.30" y2="894.70" stroke="#000" stroke-width="1" />
<line x1="371.30" y1="861.70" x2="375.30" y2="861.70" stroke="#000" stroke-width="1" />
<line x1="371.30" y1="828.70" x2="375.30" y2="828.70" stroke="#000" stroke-width="1" />
<line x1="391.20" y1="981.50" x2="391.20" y2="985.60" stroke="#000" stroke-width="1" />
<line x1="469.80" y1="981.50" x2="469.80" y2="985.60" stroke="#000" stroke-width="1" />
<line x1="548.40" y1="981.50" x2="548.40" y2="985.60" stroke="#000" stroke-width="1" />
</g>
<text x="368.50" y="965.80" font-size="14.7" text-anchor="end" fill="#000" stroke="#000" stroke-width="0.22" font-weight="normal" >0.75</text>
<text x="368.50" y="932.80" font-size="14.7" text-anchor="end" fill="#000" stroke="#000" stroke-width="0.22" font-weight="normal" >1.00</text>
<text x="368.50" y="899.80" font-size="14.7" text-anchor="end" fill="#000" stroke="#000" stroke-width="0.22" font-weight="normal" >1.25</text>
<text x="368.50" y="866.80" font-size="14.7" text-anchor="end" fill="#000" stroke="#000" stroke-width="0.22" font-weight="normal" >1.50</text>
<text x="368.50" y="833.80" font-size="14.7" text-anchor="end" fill="#000" stroke="#000" stroke-width="0.22" font-weight="normal" >1.75</text>
<text x="389.40" y="1000.00" font-size="15.7" text-anchor="middle" fill="#000" stroke="#000" stroke-width="0.22" font-weight="normal" >-100</text>
<text x="469.80" y="1000.00" font-size="15.7" text-anchor="middle" fill="#000" stroke="#000" stroke-width="0.22" font-weight="normal" >0</text>
<text x="548.40" y="1000.00" font-size="15.7" text-anchor="middle" fill="#000" stroke="#000" stroke-width="0.22" font-weight="normal" >100</text>
<text x="500.00" y="1020.20" font-size="15.7" text-anchor="middle" fill="#000" stroke="#000" stroke-width="0.22" font-weight="normal" >time (min) from the point of addition of inhibitor</text>
<text transform="translate(327.80,894.60) rotate(-90)" font-size="15.5" text-anchor="middle" fill="#000" stroke="#000" stroke-width="0.22">ERK activity</text>
<rect x="468.1" y="825.2" width="3.0" height="24" fill="#000"/>
<polygon points="461.6,841.0 464.3,838.7 469.6,848.0 474.9,838.7 477.6,841.0 469.6,853.6" fill="#000"/>
<text x="491.20" y="836.00" font-size="15.7" text-anchor="start" fill="#000" stroke="#000" stroke-width="0.22" font-weight="normal" >MEK inhibitor</text>
<text x="486.30" y="854.40" font-size="15.7" text-anchor="start" fill="#000" stroke="#000" stroke-width="0.22" font-weight="normal" >(PD0325901, 1μM)</text>
</svg>
</body></html>
